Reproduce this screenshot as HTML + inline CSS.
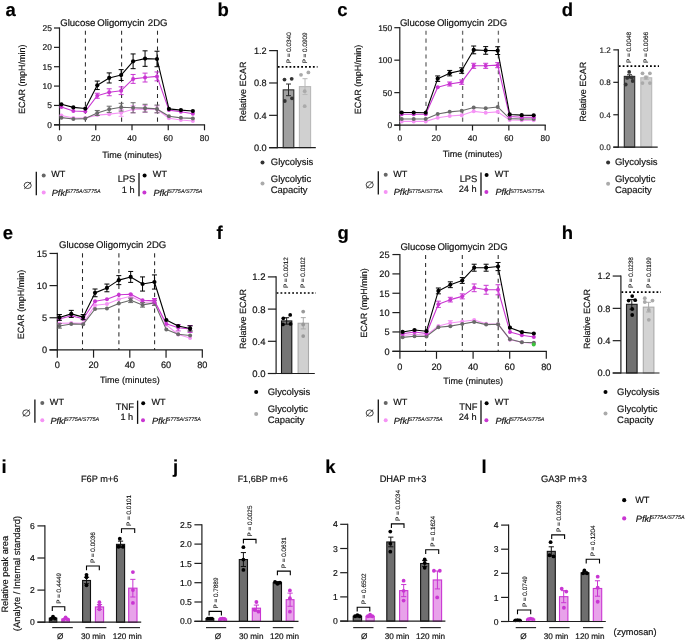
<!DOCTYPE html>
<html><head><meta charset="utf-8"><style>
html,body{margin:0;padding:0;background:#fff;}
body{width:685px;height:642px;overflow:hidden;}
svg{display:block;font-family:"Liberation Sans", sans-serif;will-change:transform;text-rendering:geometricPrecision;}
text{stroke:#111;stroke-width:0.18px;}
</style></head><body>
<svg width="685" height="642" viewBox="0 0 685 642">
<rect width="685" height="642" fill="#fff"/>
<text x="5.6" y="16.2" font-size="18.5" font-weight="bold">a</text>
<text x="217.6" y="15.9" font-size="18.5" font-weight="bold">b</text>
<text x="337.2" y="16.1" font-size="18.5" font-weight="bold">c</text>
<text x="561.8" y="16" font-size="18.5" font-weight="bold">d</text>
<text x="2.8" y="239.2" font-size="18.5" font-weight="bold">e</text>
<text x="216.6" y="238.8" font-size="18.5" font-weight="bold">f</text>
<text x="337.4" y="239" font-size="18.5" font-weight="bold">g</text>
<text x="561.8" y="239" font-size="18.5" font-weight="bold">h</text>
<text x="1.5" y="473.4" font-size="18.5" font-weight="bold">i</text>
<text x="173" y="472.6" font-size="18.5" font-weight="bold">j</text>
<text x="325.2" y="473" font-size="18.5" font-weight="bold">k</text>
<text x="481.5" y="473" font-size="18.5" font-weight="bold">l</text>
<line x1="85.4" y1="30.7" x2="85.4" y2="124.8" stroke="#2a2a2a" stroke-width="1.05" stroke-dasharray="4.1,3.8"/>
<line x1="121.6" y1="30.7" x2="121.6" y2="124.8" stroke="#2a2a2a" stroke-width="1.05" stroke-dasharray="4.1,3.8"/>
<line x1="157.5" y1="30.7" x2="157.5" y2="124.8" stroke="#2a2a2a" stroke-width="1.05" stroke-dasharray="4.1,3.8"/>
<line x1="59.5" y1="27.4" x2="59.5" y2="125.4" stroke="#1e1e1e" stroke-width="1.2"/>
<line x1="54" y1="124.8" x2="205.1" y2="124.8" stroke="#1e1e1e" stroke-width="1.2"/>
<line x1="54" y1="124.8" x2="59.5" y2="124.8" stroke="#1e1e1e" stroke-width="1.2"/>
<text x="51.9" y="127.82" font-size="8.4" text-anchor="end" fill="#111">0</text>
<line x1="54" y1="105.44" x2="59.5" y2="105.44" stroke="#1e1e1e" stroke-width="1.2"/>
<text x="51.9" y="108.46" font-size="8.4" text-anchor="end" fill="#111">5</text>
<line x1="54" y1="86.08" x2="59.5" y2="86.08" stroke="#1e1e1e" stroke-width="1.2"/>
<text x="51.9" y="89.1" font-size="8.4" text-anchor="end" fill="#111">10</text>
<line x1="54" y1="66.72" x2="59.5" y2="66.72" stroke="#1e1e1e" stroke-width="1.2"/>
<text x="51.9" y="69.74" font-size="8.4" text-anchor="end" fill="#111">15</text>
<line x1="54" y1="47.36" x2="59.5" y2="47.36" stroke="#1e1e1e" stroke-width="1.2"/>
<text x="51.9" y="50.38" font-size="8.4" text-anchor="end" fill="#111">20</text>
<line x1="54" y1="28" x2="59.5" y2="28" stroke="#1e1e1e" stroke-width="1.2"/>
<text x="51.9" y="31.02" font-size="8.4" text-anchor="end" fill="#111">25</text>
<line x1="59.5" y1="124.8" x2="59.5" y2="130.3" stroke="#1e1e1e" stroke-width="1.2"/>
<text x="59.5" y="140.9" font-size="8.4" text-anchor="middle" fill="#111">0</text>
<line x1="95.75" y1="124.8" x2="95.75" y2="130.3" stroke="#1e1e1e" stroke-width="1.2"/>
<text x="95.75" y="140.9" font-size="8.4" text-anchor="middle" fill="#111">20</text>
<line x1="132" y1="124.8" x2="132" y2="130.3" stroke="#1e1e1e" stroke-width="1.2"/>
<text x="132" y="140.9" font-size="8.4" text-anchor="middle" fill="#111">40</text>
<line x1="168.25" y1="124.8" x2="168.25" y2="130.3" stroke="#1e1e1e" stroke-width="1.2"/>
<text x="168.25" y="140.9" font-size="8.4" text-anchor="middle" fill="#111">60</text>
<line x1="204.5" y1="124.8" x2="204.5" y2="130.3" stroke="#1e1e1e" stroke-width="1.2"/>
<text x="204.5" y="140.9" font-size="8.4" text-anchor="middle" fill="#111">80</text>
<text x="132" y="158" font-size="9" text-anchor="middle" fill="#111">Time (minutes)</text>
<text x="25.3" y="79.3" font-size="9" text-anchor="middle" fill="#111" transform="rotate(-90 25.3 79.3)">ECAR (mpH/min)</text>
<text x="60.2" y="26" font-size="9.6" fill="#111">Glucose</text>
<text x="97.2" y="26" font-size="9.6" fill="#111">Oligomycin</text>
<text x="147.8" y="26" font-size="9.6" fill="#111">2DG</text>
<polyline points="61.4,115.51 73.35,118.02 85.3,118.02 97.25,115.12 109.2,114.15 121.15,112.8 133.1,109.31 145.05,108.92 157,109.31 168.95,118.22 180.9,119.96 192.85,120.93" fill="none" stroke="#f593f5" stroke-width="1.1" stroke-linejoin="round"/>
<line x1="121.15" y1="109.31" x2="121.15" y2="116.28" stroke="#f593f5" stroke-width="1"/>
<line x1="118.65" y1="109.31" x2="123.65" y2="109.31" stroke="#f593f5" stroke-width="1"/>
<line x1="118.65" y1="116.28" x2="123.65" y2="116.28" stroke="#f593f5" stroke-width="1"/>
<line x1="133.1" y1="105.83" x2="133.1" y2="112.8" stroke="#f593f5" stroke-width="1"/>
<line x1="130.6" y1="105.83" x2="135.6" y2="105.83" stroke="#f593f5" stroke-width="1"/>
<line x1="130.6" y1="112.8" x2="135.6" y2="112.8" stroke="#f593f5" stroke-width="1"/>
<line x1="145.05" y1="105.44" x2="145.05" y2="112.41" stroke="#f593f5" stroke-width="1"/>
<line x1="142.55" y1="105.44" x2="147.55" y2="105.44" stroke="#f593f5" stroke-width="1"/>
<line x1="142.55" y1="112.41" x2="147.55" y2="112.41" stroke="#f593f5" stroke-width="1"/>
<line x1="157" y1="105.83" x2="157" y2="112.8" stroke="#f593f5" stroke-width="1"/>
<line x1="154.5" y1="105.83" x2="159.5" y2="105.83" stroke="#f593f5" stroke-width="1"/>
<line x1="154.5" y1="112.8" x2="159.5" y2="112.8" stroke="#f593f5" stroke-width="1"/>
<circle cx="61.4" cy="115.51" r="2" fill="#f593f5"/>
<circle cx="73.35" cy="118.02" r="2" fill="#f593f5"/>
<circle cx="85.3" cy="118.02" r="2" fill="#f593f5"/>
<circle cx="97.25" cy="115.12" r="2" fill="#f593f5"/>
<circle cx="109.2" cy="114.15" r="2" fill="#f593f5"/>
<circle cx="121.15" cy="112.8" r="2" fill="#f593f5"/>
<circle cx="133.1" cy="109.31" r="2" fill="#f593f5"/>
<circle cx="145.05" cy="108.92" r="2" fill="#f593f5"/>
<circle cx="157" cy="109.31" r="2" fill="#f593f5"/>
<circle cx="168.95" cy="118.22" r="2" fill="#f593f5"/>
<circle cx="180.9" cy="119.96" r="2" fill="#f593f5"/>
<circle cx="192.85" cy="120.93" r="2" fill="#f593f5"/>
<polyline points="61.4,117.64 73.35,118.99 85.3,118.6 97.25,112.99 109.2,109.31 121.15,107.18 133.1,107.76 145.05,108.15 157,108.92 168.95,116.28 180.9,117.83 192.85,118.41" fill="none" stroke="#6a6a6a" stroke-width="1.1" stroke-linejoin="round"/>
<line x1="97.25" y1="110.47" x2="97.25" y2="115.51" stroke="#6a6a6a" stroke-width="1"/>
<line x1="94.75" y1="110.47" x2="99.75" y2="110.47" stroke="#6a6a6a" stroke-width="1"/>
<line x1="94.75" y1="115.51" x2="99.75" y2="115.51" stroke="#6a6a6a" stroke-width="1"/>
<line x1="109.2" y1="106.21" x2="109.2" y2="112.41" stroke="#6a6a6a" stroke-width="1"/>
<line x1="106.7" y1="106.21" x2="111.7" y2="106.21" stroke="#6a6a6a" stroke-width="1"/>
<line x1="106.7" y1="112.41" x2="111.7" y2="112.41" stroke="#6a6a6a" stroke-width="1"/>
<line x1="121.15" y1="103.31" x2="121.15" y2="111.05" stroke="#6a6a6a" stroke-width="1"/>
<line x1="118.65" y1="103.31" x2="123.65" y2="103.31" stroke="#6a6a6a" stroke-width="1"/>
<line x1="118.65" y1="111.05" x2="123.65" y2="111.05" stroke="#6a6a6a" stroke-width="1"/>
<line x1="133.1" y1="102.73" x2="133.1" y2="112.8" stroke="#6a6a6a" stroke-width="1"/>
<line x1="130.6" y1="102.73" x2="135.6" y2="102.73" stroke="#6a6a6a" stroke-width="1"/>
<line x1="130.6" y1="112.8" x2="135.6" y2="112.8" stroke="#6a6a6a" stroke-width="1"/>
<line x1="145.05" y1="104.28" x2="145.05" y2="112.02" stroke="#6a6a6a" stroke-width="1"/>
<line x1="142.55" y1="104.28" x2="147.55" y2="104.28" stroke="#6a6a6a" stroke-width="1"/>
<line x1="142.55" y1="112.02" x2="147.55" y2="112.02" stroke="#6a6a6a" stroke-width="1"/>
<line x1="157" y1="105.05" x2="157" y2="112.8" stroke="#6a6a6a" stroke-width="1"/>
<line x1="154.5" y1="105.05" x2="159.5" y2="105.05" stroke="#6a6a6a" stroke-width="1"/>
<line x1="154.5" y1="112.8" x2="159.5" y2="112.8" stroke="#6a6a6a" stroke-width="1"/>
<circle cx="61.4" cy="117.64" r="2" fill="#6a6a6a"/>
<circle cx="73.35" cy="118.99" r="2" fill="#6a6a6a"/>
<circle cx="85.3" cy="118.6" r="2" fill="#6a6a6a"/>
<circle cx="97.25" cy="112.99" r="2" fill="#6a6a6a"/>
<circle cx="109.2" cy="109.31" r="2" fill="#6a6a6a"/>
<circle cx="121.15" cy="107.18" r="2" fill="#6a6a6a"/>
<circle cx="133.1" cy="107.76" r="2" fill="#6a6a6a"/>
<circle cx="145.05" cy="108.15" r="2" fill="#6a6a6a"/>
<circle cx="157" cy="108.92" r="2" fill="#6a6a6a"/>
<circle cx="168.95" cy="116.28" r="2" fill="#6a6a6a"/>
<circle cx="180.9" cy="117.83" r="2" fill="#6a6a6a"/>
<circle cx="192.85" cy="118.41" r="2" fill="#6a6a6a"/>
<polyline points="61.4,106.99 73.35,111.05 85.3,111.44 97.25,95.76 109.2,92.28 121.15,90.73 133.1,78.92 145.05,77.56 157,76.4 168.95,110.09 180.9,111.83 192.85,113.76" fill="none" stroke="#c936d2" stroke-width="1.1" stroke-linejoin="round"/>
<line x1="97.25" y1="93.24" x2="97.25" y2="98.28" stroke="#c936d2" stroke-width="1"/>
<line x1="94.75" y1="93.24" x2="99.75" y2="93.24" stroke="#c936d2" stroke-width="1"/>
<line x1="94.75" y1="98.28" x2="99.75" y2="98.28" stroke="#c936d2" stroke-width="1"/>
<line x1="109.2" y1="88.79" x2="109.2" y2="95.76" stroke="#c936d2" stroke-width="1"/>
<line x1="106.7" y1="88.79" x2="111.7" y2="88.79" stroke="#c936d2" stroke-width="1"/>
<line x1="106.7" y1="95.76" x2="111.7" y2="95.76" stroke="#c936d2" stroke-width="1"/>
<line x1="121.15" y1="86.85" x2="121.15" y2="94.6" stroke="#c936d2" stroke-width="1"/>
<line x1="118.65" y1="86.85" x2="123.65" y2="86.85" stroke="#c936d2" stroke-width="1"/>
<line x1="118.65" y1="94.6" x2="123.65" y2="94.6" stroke="#c936d2" stroke-width="1"/>
<line x1="133.1" y1="74.46" x2="133.1" y2="83.37" stroke="#c936d2" stroke-width="1"/>
<line x1="130.6" y1="74.46" x2="135.6" y2="74.46" stroke="#c936d2" stroke-width="1"/>
<line x1="130.6" y1="83.37" x2="135.6" y2="83.37" stroke="#c936d2" stroke-width="1"/>
<line x1="145.05" y1="73.11" x2="145.05" y2="82.01" stroke="#c936d2" stroke-width="1"/>
<line x1="142.55" y1="73.11" x2="147.55" y2="73.11" stroke="#c936d2" stroke-width="1"/>
<line x1="142.55" y1="82.01" x2="147.55" y2="82.01" stroke="#c936d2" stroke-width="1"/>
<line x1="157" y1="71.95" x2="157" y2="80.85" stroke="#c936d2" stroke-width="1"/>
<line x1="154.5" y1="71.95" x2="159.5" y2="71.95" stroke="#c936d2" stroke-width="1"/>
<line x1="154.5" y1="80.85" x2="159.5" y2="80.85" stroke="#c936d2" stroke-width="1"/>
<circle cx="61.4" cy="106.99" r="2" fill="#c936d2"/>
<circle cx="73.35" cy="111.05" r="2" fill="#c936d2"/>
<circle cx="85.3" cy="111.44" r="2" fill="#c936d2"/>
<circle cx="97.25" cy="95.76" r="2" fill="#c936d2"/>
<circle cx="109.2" cy="92.28" r="2" fill="#c936d2"/>
<circle cx="121.15" cy="90.73" r="2" fill="#c936d2"/>
<circle cx="133.1" cy="78.92" r="2" fill="#c936d2"/>
<circle cx="145.05" cy="77.56" r="2" fill="#c936d2"/>
<circle cx="157" cy="76.4" r="2" fill="#c936d2"/>
<circle cx="168.95" cy="110.09" r="2" fill="#c936d2"/>
<circle cx="180.9" cy="111.83" r="2" fill="#c936d2"/>
<circle cx="192.85" cy="113.76" r="2" fill="#c936d2"/>
<polyline points="61.4,104.28 73.35,107.38 85.3,108.54 97.25,85.31 109.2,77.95 121.15,75.04 133.1,61.3 145.05,58.59 157,58.98 168.95,108.92 180.9,110.09 192.85,111.05" fill="none" stroke="#000" stroke-width="1.1" stroke-linejoin="round"/>
<line x1="97.25" y1="81.05" x2="97.25" y2="89.56" stroke="#000" stroke-width="1"/>
<line x1="94.75" y1="81.05" x2="99.75" y2="81.05" stroke="#000" stroke-width="1"/>
<line x1="94.75" y1="89.56" x2="99.75" y2="89.56" stroke="#000" stroke-width="1"/>
<line x1="109.2" y1="72.92" x2="109.2" y2="82.98" stroke="#000" stroke-width="1"/>
<line x1="106.7" y1="72.92" x2="111.7" y2="72.92" stroke="#000" stroke-width="1"/>
<line x1="106.7" y1="82.98" x2="111.7" y2="82.98" stroke="#000" stroke-width="1"/>
<line x1="121.15" y1="69.62" x2="121.15" y2="80.47" stroke="#000" stroke-width="1"/>
<line x1="118.65" y1="69.62" x2="123.65" y2="69.62" stroke="#000" stroke-width="1"/>
<line x1="118.65" y1="80.47" x2="123.65" y2="80.47" stroke="#000" stroke-width="1"/>
<line x1="133.1" y1="53.94" x2="133.1" y2="68.66" stroke="#000" stroke-width="1"/>
<line x1="130.6" y1="53.94" x2="135.6" y2="53.94" stroke="#000" stroke-width="1"/>
<line x1="130.6" y1="68.66" x2="135.6" y2="68.66" stroke="#000" stroke-width="1"/>
<line x1="145.05" y1="50.84" x2="145.05" y2="66.33" stroke="#000" stroke-width="1"/>
<line x1="142.55" y1="50.84" x2="147.55" y2="50.84" stroke="#000" stroke-width="1"/>
<line x1="142.55" y1="66.33" x2="147.55" y2="66.33" stroke="#000" stroke-width="1"/>
<line x1="157" y1="51.23" x2="157" y2="66.72" stroke="#000" stroke-width="1"/>
<line x1="154.5" y1="51.23" x2="159.5" y2="51.23" stroke="#000" stroke-width="1"/>
<line x1="154.5" y1="66.72" x2="159.5" y2="66.72" stroke="#000" stroke-width="1"/>
<circle cx="61.4" cy="104.28" r="2.1" fill="#000"/>
<circle cx="73.35" cy="107.38" r="2.1" fill="#000"/>
<circle cx="85.3" cy="108.54" r="2.1" fill="#000"/>
<circle cx="97.25" cy="85.31" r="2.1" fill="#000"/>
<circle cx="109.2" cy="77.95" r="2.1" fill="#000"/>
<circle cx="121.15" cy="75.04" r="2.1" fill="#000"/>
<circle cx="133.1" cy="61.3" r="2.1" fill="#000"/>
<circle cx="145.05" cy="58.59" r="2.1" fill="#000"/>
<circle cx="157" cy="58.98" r="2.1" fill="#000"/>
<circle cx="168.95" cy="108.92" r="2.1" fill="#000"/>
<circle cx="180.9" cy="110.09" r="2.1" fill="#000"/>
<circle cx="192.85" cy="111.05" r="2.1" fill="#000"/>
<ellipse cx="27.7" cy="185.4" rx="3.55" ry="3.15" fill="none" stroke="#222" stroke-width="0.85"/>
<line x1="24.2" y1="188.9" x2="31.2" y2="182" stroke="#222" stroke-width="0.8"/>
<line x1="36.3" y1="171.8" x2="36.3" y2="195.2" stroke="#111" stroke-width="1.3"/>
<circle cx="43.7" cy="175.4" r="2" fill="#666"/>
<text x="51.2" y="177.1" font-size="9.1" fill="#111">WT</text>
<circle cx="43.7" cy="192.6" r="2" fill="#f593f5"/>
<text x="51.8" y="196" font-size="9.1" font-style="italic" fill="#111">Pfkl</text>
<text x="66.4" y="193.2" font-size="5.45" font-style="italic" fill="#111" style="stroke-width:0.11px">S775A/S775A</text>
<text x="135.4" y="182.2" font-size="9.4" text-anchor="end" fill="#111">LPS</text>
<text x="134.6" y="192.8" font-size="9.2" text-anchor="end" fill="#111">1 h</text>
<line x1="139" y1="173" x2="139" y2="196.3" stroke="#111" stroke-width="1.3"/>
<circle cx="144.6" cy="175.6" r="2" fill="#000"/>
<text x="152.8" y="177.1" font-size="9.1" fill="#111">WT</text>
<circle cx="144.4" cy="192.6" r="2" fill="#c936d2"/>
<text x="153.4" y="196" font-size="9.1" font-style="italic" fill="#111">Pfkl</text>
<text x="168.2" y="193.2" font-size="5.45" font-style="italic" fill="#111" style="stroke-width:0.11px">S775A/S775A</text>
<line x1="277.8" y1="66.8" x2="317.5" y2="66.8" stroke="#000" stroke-width="1.7" stroke-dasharray="1.8,2.1"/>
<rect x="283.2" y="89.86" width="10.6" height="57.84" fill="#a0a0a0" stroke="#2a2a2a" stroke-width="1.1"/>
<line x1="288.5" y1="84.03" x2="288.5" y2="95.68" stroke="#2a2a2a" stroke-width="1"/>
<line x1="286" y1="84.03" x2="291" y2="84.03" stroke="#2a2a2a" stroke-width="1"/>
<line x1="286" y1="95.68" x2="291" y2="95.68" stroke="#2a2a2a" stroke-width="1"/>
<circle cx="284.5" cy="79.6" r="1.9" fill="#333"/>
<circle cx="291.7" cy="78.8" r="1.9" fill="#333"/>
<circle cx="284.8" cy="101" r="1.9" fill="#333"/>
<circle cx="292" cy="98.3" r="1.9" fill="#333"/>
<rect x="299.4" y="86.62" width="11.2" height="61.08" fill="#d0d0d0" stroke="#b8b8b8" stroke-width="1.1"/>
<line x1="305" y1="78.69" x2="305" y2="94.55" stroke="#b8b8b8" stroke-width="1"/>
<line x1="302.5" y1="78.69" x2="307.5" y2="78.69" stroke="#b8b8b8" stroke-width="1"/>
<line x1="302.5" y1="94.55" x2="307.5" y2="94.55" stroke="#b8b8b8" stroke-width="1"/>
<circle cx="301" cy="74.8" r="1.9" fill="#aaa"/>
<circle cx="308.4" cy="72.4" r="1.9" fill="#aaa"/>
<circle cx="304.7" cy="91.2" r="1.9" fill="#aaa"/>
<circle cx="304.7" cy="106.2" r="1.9" fill="#aaa"/>
<line x1="277.3" y1="50.02" x2="277.3" y2="148.3" stroke="#1e1e1e" stroke-width="1.2"/>
<line x1="269.1" y1="147.7" x2="315.8" y2="147.7" stroke="#1e1e1e" stroke-width="1.2"/>
<line x1="269.1" y1="147.7" x2="277.3" y2="147.7" stroke="#1e1e1e" stroke-width="1.2"/>
<text x="266.7" y="151.01" font-size="9.2" text-anchor="end" fill="#111">0.0</text>
<line x1="269.1" y1="115.34" x2="277.3" y2="115.34" stroke="#1e1e1e" stroke-width="1.2"/>
<text x="266.7" y="118.65" font-size="9.2" text-anchor="end" fill="#111">0.4</text>
<line x1="269.1" y1="82.98" x2="277.3" y2="82.98" stroke="#1e1e1e" stroke-width="1.2"/>
<text x="266.7" y="86.29" font-size="9.2" text-anchor="end" fill="#111">0.8</text>
<line x1="269.1" y1="50.62" x2="277.3" y2="50.62" stroke="#1e1e1e" stroke-width="1.2"/>
<text x="266.7" y="53.93" font-size="9.2" text-anchor="end" fill="#111">1.2</text>
<text x="246.2" y="91.5" font-size="9" text-anchor="middle" fill="#111" transform="rotate(-90 246.2 91.5)">Relative ECAR</text>
<text x="290.9" y="47.8" font-size="6.4" text-anchor="middle" fill="#111" transform="rotate(-90 290.9 47.8)" style="stroke-width:0.11px">P = 0.0340</text>
<text x="307.1" y="47.8" font-size="6.4" text-anchor="middle" fill="#111" transform="rotate(-90 307.1 47.8)" style="stroke-width:0.11px">P = 0.0909</text>
<circle cx="262.5" cy="162.4" r="2" fill="#333"/>
<text x="270.8" y="165" font-size="9.45" fill="#111">Glycolysis</text>
<circle cx="262.5" cy="183.6" r="2" fill="#aaa"/>
<text x="270.8" y="182" font-size="9.45" fill="#111">Glycolytic</text>
<text x="270.8" y="193.2" font-size="9.45" fill="#111">Capacity</text>
<line x1="426" y1="30.7" x2="426" y2="125.1" stroke="#6a6a6a" stroke-width="1.3" stroke-dasharray="4.1,3.8"/>
<line x1="462.6" y1="30.7" x2="462.6" y2="125.1" stroke="#6a6a6a" stroke-width="1.3" stroke-dasharray="4.1,3.8"/>
<line x1="498.4" y1="30.7" x2="498.4" y2="125.1" stroke="#6a6a6a" stroke-width="1.3" stroke-dasharray="4.1,3.8"/>
<line x1="399.8" y1="27.1" x2="399.8" y2="125.7" stroke="#1e1e1e" stroke-width="1.2"/>
<line x1="394.3" y1="125.1" x2="545.8" y2="125.1" stroke="#1e1e1e" stroke-width="1.2"/>
<line x1="394.3" y1="125.1" x2="399.8" y2="125.1" stroke="#1e1e1e" stroke-width="1.2"/>
<text x="392.2" y="128.12" font-size="8.4" text-anchor="end" fill="#111">0</text>
<line x1="394.3" y1="92.63" x2="399.8" y2="92.63" stroke="#1e1e1e" stroke-width="1.2"/>
<text x="392.2" y="95.66" font-size="8.4" text-anchor="end" fill="#111">50</text>
<line x1="394.3" y1="60.17" x2="399.8" y2="60.17" stroke="#1e1e1e" stroke-width="1.2"/>
<text x="392.2" y="63.19" font-size="8.4" text-anchor="end" fill="#111">100</text>
<line x1="394.3" y1="27.7" x2="399.8" y2="27.7" stroke="#1e1e1e" stroke-width="1.2"/>
<text x="392.2" y="30.73" font-size="8.4" text-anchor="end" fill="#111">150</text>
<line x1="399.8" y1="125.1" x2="399.8" y2="130.6" stroke="#1e1e1e" stroke-width="1.2"/>
<text x="399.8" y="141.2" font-size="8.4" text-anchor="middle" fill="#111">0</text>
<line x1="436.15" y1="125.1" x2="436.15" y2="130.6" stroke="#1e1e1e" stroke-width="1.2"/>
<text x="436.15" y="141.2" font-size="8.4" text-anchor="middle" fill="#111">20</text>
<line x1="472.5" y1="125.1" x2="472.5" y2="130.6" stroke="#1e1e1e" stroke-width="1.2"/>
<text x="472.5" y="141.2" font-size="8.4" text-anchor="middle" fill="#111">40</text>
<line x1="508.85" y1="125.1" x2="508.85" y2="130.6" stroke="#1e1e1e" stroke-width="1.2"/>
<text x="508.85" y="141.2" font-size="8.4" text-anchor="middle" fill="#111">60</text>
<line x1="545.2" y1="125.1" x2="545.2" y2="130.6" stroke="#1e1e1e" stroke-width="1.2"/>
<text x="545.2" y="141.2" font-size="8.4" text-anchor="middle" fill="#111">80</text>
<text x="472.5" y="157.1" font-size="9" text-anchor="middle" fill="#111">Time (minutes)</text>
<text x="361" y="79.5" font-size="9" text-anchor="middle" fill="#111" transform="rotate(-90 361 79.5)">ECAR (mpH/min)</text>
<text x="399.9" y="25.6" font-size="9.6" fill="#111">Glucose</text>
<text x="436.9" y="25.6" font-size="9.6" fill="#111">Oligomycin</text>
<text x="487.5" y="25.6" font-size="9.6" fill="#111">2DG</text>
<polyline points="401.7,121.4 413.7,121.4 425.7,121.4 437.7,117.76 449.7,116.07 461.7,115.17 473.7,111.33 485.7,112.76 497.7,111.85 509.7,119.97 521.7,120.3 533.7,120.3" fill="none" stroke="#f593f5" stroke-width="1.1" stroke-linejoin="round"/>
<circle cx="401.7" cy="121.4" r="2" fill="#f593f5"/>
<circle cx="413.7" cy="121.4" r="2" fill="#f593f5"/>
<circle cx="425.7" cy="121.4" r="2" fill="#f593f5"/>
<circle cx="437.7" cy="117.76" r="2" fill="#f593f5"/>
<circle cx="449.7" cy="116.07" r="2" fill="#f593f5"/>
<circle cx="461.7" cy="115.17" r="2" fill="#f593f5"/>
<circle cx="473.7" cy="111.33" r="2" fill="#f593f5"/>
<circle cx="485.7" cy="112.76" r="2" fill="#f593f5"/>
<circle cx="497.7" cy="111.85" r="2" fill="#f593f5"/>
<circle cx="509.7" cy="119.97" r="2" fill="#f593f5"/>
<circle cx="521.7" cy="120.3" r="2" fill="#f593f5"/>
<circle cx="533.7" cy="120.3" r="2" fill="#f593f5"/>
<polyline points="401.7,119 413.7,119 425.7,119 437.7,113.93 449.7,111.85 461.7,110.82 473.7,107.57 485.7,108.22 497.7,106.98 509.7,118.61 521.7,119.06 533.7,119.06" fill="none" stroke="#6a6a6a" stroke-width="1.1" stroke-linejoin="round"/>
<circle cx="401.7" cy="119" r="2" fill="#6a6a6a"/>
<circle cx="413.7" cy="119" r="2" fill="#6a6a6a"/>
<circle cx="425.7" cy="119" r="2" fill="#6a6a6a"/>
<circle cx="437.7" cy="113.93" r="2" fill="#6a6a6a"/>
<circle cx="449.7" cy="111.85" r="2" fill="#6a6a6a"/>
<circle cx="461.7" cy="110.82" r="2" fill="#6a6a6a"/>
<circle cx="473.7" cy="107.57" r="2" fill="#6a6a6a"/>
<circle cx="485.7" cy="108.22" r="2" fill="#6a6a6a"/>
<circle cx="497.7" cy="106.98" r="2" fill="#6a6a6a"/>
<circle cx="509.7" cy="118.61" r="2" fill="#6a6a6a"/>
<circle cx="521.7" cy="119.06" r="2" fill="#6a6a6a"/>
<circle cx="533.7" cy="119.06" r="2" fill="#6a6a6a"/>
<polyline points="401.7,114.26 413.7,114.26 425.7,114.26 437.7,87.31 449.7,84 461.7,82.12 473.7,65.82 485.7,65.82 497.7,65.17 509.7,116.53 521.7,117.31 533.7,117.31" fill="none" stroke="#c936d2" stroke-width="1.1" stroke-linejoin="round"/>
<line x1="449.7" y1="81.99" x2="449.7" y2="86.01" stroke="#c936d2" stroke-width="1"/>
<line x1="447.2" y1="81.99" x2="452.2" y2="81.99" stroke="#c936d2" stroke-width="1"/>
<line x1="447.2" y1="86.01" x2="452.2" y2="86.01" stroke="#c936d2" stroke-width="1"/>
<line x1="461.7" y1="79.91" x2="461.7" y2="84.32" stroke="#c936d2" stroke-width="1"/>
<line x1="459.2" y1="79.91" x2="464.2" y2="79.91" stroke="#c936d2" stroke-width="1"/>
<line x1="459.2" y1="84.32" x2="464.2" y2="84.32" stroke="#c936d2" stroke-width="1"/>
<line x1="473.7" y1="63.29" x2="473.7" y2="68.35" stroke="#c936d2" stroke-width="1"/>
<line x1="471.2" y1="63.29" x2="476.2" y2="63.29" stroke="#c936d2" stroke-width="1"/>
<line x1="471.2" y1="68.35" x2="476.2" y2="68.35" stroke="#c936d2" stroke-width="1"/>
<line x1="485.7" y1="63.29" x2="485.7" y2="68.35" stroke="#c936d2" stroke-width="1"/>
<line x1="483.2" y1="63.29" x2="488.2" y2="63.29" stroke="#c936d2" stroke-width="1"/>
<line x1="483.2" y1="68.35" x2="488.2" y2="68.35" stroke="#c936d2" stroke-width="1"/>
<line x1="497.7" y1="62.64" x2="497.7" y2="67.7" stroke="#c936d2" stroke-width="1"/>
<line x1="495.2" y1="62.64" x2="500.2" y2="62.64" stroke="#c936d2" stroke-width="1"/>
<line x1="495.2" y1="67.7" x2="500.2" y2="67.7" stroke="#c936d2" stroke-width="1"/>
<circle cx="401.7" cy="114.26" r="2" fill="#c936d2"/>
<circle cx="413.7" cy="114.26" r="2" fill="#c936d2"/>
<circle cx="425.7" cy="114.26" r="2" fill="#c936d2"/>
<circle cx="437.7" cy="87.31" r="2" fill="#c936d2"/>
<circle cx="449.7" cy="84" r="2" fill="#c936d2"/>
<circle cx="461.7" cy="82.12" r="2" fill="#c936d2"/>
<circle cx="473.7" cy="65.82" r="2" fill="#c936d2"/>
<circle cx="485.7" cy="65.82" r="2" fill="#c936d2"/>
<circle cx="497.7" cy="65.17" r="2" fill="#c936d2"/>
<circle cx="509.7" cy="116.53" r="2" fill="#c936d2"/>
<circle cx="521.7" cy="117.31" r="2" fill="#c936d2"/>
<circle cx="533.7" cy="117.31" r="2" fill="#c936d2"/>
<polyline points="401.7,112.57 413.7,112.57 425.7,112.76 437.7,78.68 449.7,73.16 461.7,70.56 473.7,49.91 485.7,50.43 497.7,50.63 509.7,114.45 521.7,115.17 533.7,115.36" fill="none" stroke="#000" stroke-width="1.1" stroke-linejoin="round"/>
<line x1="437.7" y1="75.95" x2="437.7" y2="81.4" stroke="#000" stroke-width="1"/>
<line x1="435.2" y1="75.95" x2="440.2" y2="75.95" stroke="#000" stroke-width="1"/>
<line x1="435.2" y1="81.4" x2="440.2" y2="81.4" stroke="#000" stroke-width="1"/>
<line x1="449.7" y1="70.43" x2="449.7" y2="75.88" stroke="#000" stroke-width="1"/>
<line x1="447.2" y1="70.43" x2="452.2" y2="70.43" stroke="#000" stroke-width="1"/>
<line x1="447.2" y1="75.88" x2="452.2" y2="75.88" stroke="#000" stroke-width="1"/>
<line x1="461.7" y1="67.83" x2="461.7" y2="73.29" stroke="#000" stroke-width="1"/>
<line x1="459.2" y1="67.83" x2="464.2" y2="67.83" stroke="#000" stroke-width="1"/>
<line x1="459.2" y1="73.29" x2="464.2" y2="73.29" stroke="#000" stroke-width="1"/>
<line x1="473.7" y1="46.02" x2="473.7" y2="53.81" stroke="#000" stroke-width="1"/>
<line x1="471.2" y1="46.02" x2="476.2" y2="46.02" stroke="#000" stroke-width="1"/>
<line x1="471.2" y1="53.81" x2="476.2" y2="53.81" stroke="#000" stroke-width="1"/>
<line x1="485.7" y1="46.6" x2="485.7" y2="54.26" stroke="#000" stroke-width="1"/>
<line x1="483.2" y1="46.6" x2="488.2" y2="46.6" stroke="#000" stroke-width="1"/>
<line x1="483.2" y1="54.26" x2="488.2" y2="54.26" stroke="#000" stroke-width="1"/>
<line x1="497.7" y1="46.73" x2="497.7" y2="54.52" stroke="#000" stroke-width="1"/>
<line x1="495.2" y1="46.73" x2="500.2" y2="46.73" stroke="#000" stroke-width="1"/>
<line x1="495.2" y1="54.52" x2="500.2" y2="54.52" stroke="#000" stroke-width="1"/>
<circle cx="401.7" cy="112.57" r="2.1" fill="#000"/>
<circle cx="413.7" cy="112.57" r="2.1" fill="#000"/>
<circle cx="425.7" cy="112.76" r="2.1" fill="#000"/>
<circle cx="437.7" cy="78.68" r="2.1" fill="#000"/>
<circle cx="449.7" cy="73.16" r="2.1" fill="#000"/>
<circle cx="461.7" cy="70.56" r="2.1" fill="#000"/>
<circle cx="473.7" cy="49.91" r="2.1" fill="#000"/>
<circle cx="485.7" cy="50.43" r="2.1" fill="#000"/>
<circle cx="497.7" cy="50.63" r="2.1" fill="#000"/>
<circle cx="509.7" cy="114.45" r="2.1" fill="#000"/>
<circle cx="521.7" cy="115.17" r="2.1" fill="#000"/>
<circle cx="533.7" cy="115.36" r="2.1" fill="#000"/>
<ellipse cx="369.7" cy="184.8" rx="3.55" ry="3.15" fill="none" stroke="#222" stroke-width="0.85"/>
<line x1="366.2" y1="188.3" x2="373.2" y2="181.4" stroke="#222" stroke-width="0.8"/>
<line x1="378.3" y1="171.2" x2="378.3" y2="194.6" stroke="#111" stroke-width="1.3"/>
<circle cx="385.7" cy="174.8" r="2" fill="#666"/>
<text x="393.2" y="176.5" font-size="9.1" fill="#111">WT</text>
<circle cx="385.7" cy="192" r="2" fill="#f593f5"/>
<text x="393.8" y="195.4" font-size="9.1" font-style="italic" fill="#111">Pfkl</text>
<text x="408.4" y="192.6" font-size="5.45" fill="#111" style="stroke-width:0.11px">S775A/S775A</text>
<text x="477.4" y="181.6" font-size="9.4" text-anchor="end" fill="#111">LPS</text>
<text x="476.6" y="192.2" font-size="9.2" text-anchor="end" fill="#111">24 h</text>
<line x1="481" y1="172.4" x2="481" y2="195.7" stroke="#111" stroke-width="1.3"/>
<circle cx="486.6" cy="175" r="2" fill="#000"/>
<text x="494.8" y="176.5" font-size="9.1" fill="#111">WT</text>
<circle cx="486.4" cy="192" r="2" fill="#c936d2"/>
<text x="495.4" y="195.4" font-size="9.1" font-style="italic" fill="#111">Pfkl</text>
<text x="510.2" y="192.6" font-size="5.45" fill="#111" style="stroke-width:0.11px">S775A/S775A</text>
<line x1="618.8" y1="66.1" x2="659" y2="66.1" stroke="#000" stroke-width="1.7" stroke-dasharray="1.8,2.1"/>
<rect x="624.3" y="76.4" width="10.4" height="70.8" fill="#8c8c8c" stroke="#2a2a2a" stroke-width="1.1"/>
<line x1="629.5" y1="74.78" x2="629.5" y2="78.02" stroke="#2a2a2a" stroke-width="1"/>
<line x1="627" y1="74.78" x2="632" y2="74.78" stroke="#2a2a2a" stroke-width="1"/>
<line x1="627" y1="78.02" x2="632" y2="78.02" stroke="#2a2a2a" stroke-width="1"/>
<circle cx="629.2" cy="71.9" r="1.9" fill="#333"/>
<circle cx="625.7" cy="84.5" r="1.9" fill="#333"/>
<circle cx="632.7" cy="81" r="1.9" fill="#333"/>
<circle cx="627.1" cy="77.9" r="1.9" fill="#333"/>
<circle cx="632" cy="77.5" r="1.9" fill="#333"/>
<rect x="640.8" y="77.78" width="10.9" height="69.42" fill="#d0d0d0" stroke="#b8b8b8" stroke-width="1.1"/>
<line x1="646.25" y1="76.16" x2="646.25" y2="79.4" stroke="#b8b8b8" stroke-width="1"/>
<line x1="643.75" y1="76.16" x2="648.75" y2="76.16" stroke="#b8b8b8" stroke-width="1"/>
<line x1="643.75" y1="79.4" x2="648.75" y2="79.4" stroke="#b8b8b8" stroke-width="1"/>
<circle cx="642.5" cy="73.3" r="1.9" fill="#aaa"/>
<circle cx="649.9" cy="73.3" r="1.9" fill="#aaa"/>
<circle cx="646" cy="77.5" r="1.9" fill="#aaa"/>
<circle cx="642.5" cy="83.1" r="1.9" fill="#aaa"/>
<circle cx="649.9" cy="83.1" r="1.9" fill="#aaa"/>
<line x1="618.3" y1="49.28" x2="618.3" y2="147.8" stroke="#1e1e1e" stroke-width="1.2"/>
<line x1="613.3" y1="147.2" x2="657.7" y2="147.2" stroke="#1e1e1e" stroke-width="1.2"/>
<line x1="613.3" y1="147.2" x2="618.3" y2="147.2" stroke="#1e1e1e" stroke-width="1.2"/>
<text x="610.7" y="150.08" font-size="8" text-anchor="end" fill="#333">0.0</text>
<line x1="613.3" y1="114.76" x2="618.3" y2="114.76" stroke="#1e1e1e" stroke-width="1.2"/>
<text x="610.7" y="117.64" font-size="8" text-anchor="end" fill="#333">0.4</text>
<line x1="613.3" y1="82.32" x2="618.3" y2="82.32" stroke="#1e1e1e" stroke-width="1.2"/>
<text x="610.7" y="85.2" font-size="8" text-anchor="end" fill="#333">0.8</text>
<line x1="613.3" y1="49.88" x2="618.3" y2="49.88" stroke="#1e1e1e" stroke-width="1.2"/>
<text x="610.7" y="52.76" font-size="8" text-anchor="end" fill="#333">1.2</text>
<text x="586.4" y="91.8" font-size="9" text-anchor="middle" fill="#111" transform="rotate(-90 586.4 91.8)">Relative ECAR</text>
<text x="631.4" y="47.4" font-size="6.4" text-anchor="middle" fill="#111" transform="rotate(-90 631.4 47.4)" style="stroke-width:0.11px">P = 0.0048</text>
<text x="648.1" y="47.4" font-size="6.4" text-anchor="middle" fill="#111" transform="rotate(-90 648.1 47.4)" style="stroke-width:0.11px">P = 0.0066</text>
<circle cx="608.1" cy="162.6" r="2" fill="#333"/>
<text x="615" y="165.2" font-size="9.45" fill="#111">Glycolysis</text>
<circle cx="608.1" cy="183.8" r="2" fill="#aaa"/>
<text x="615" y="182.2" font-size="9.45" fill="#111">Glycolytic</text>
<text x="615" y="193.4" font-size="9.45" fill="#111">Capacity</text>
<line x1="82.5" y1="253.3" x2="82.5" y2="349.9" stroke="#2a2a2a" stroke-width="1.05" stroke-dasharray="4.1,3.8"/>
<line x1="118.9" y1="253.3" x2="118.9" y2="349.9" stroke="#2a2a2a" stroke-width="1.05" stroke-dasharray="4.1,3.8"/>
<line x1="154.6" y1="253.3" x2="154.6" y2="349.9" stroke="#2a2a2a" stroke-width="1.05" stroke-dasharray="4.1,3.8"/>
<line x1="57.3" y1="252.85" x2="57.3" y2="350.5" stroke="#1e1e1e" stroke-width="1.2"/>
<line x1="49.5" y1="349.9" x2="202.9" y2="349.9" stroke="#1e1e1e" stroke-width="1.2"/>
<line x1="49.5" y1="349.9" x2="57.3" y2="349.9" stroke="#1e1e1e" stroke-width="1.2"/>
<text x="47.1" y="353.21" font-size="9.2" text-anchor="end" fill="#111">0</text>
<line x1="49.5" y1="317.75" x2="57.3" y2="317.75" stroke="#1e1e1e" stroke-width="1.2"/>
<text x="47.1" y="321.06" font-size="9.2" text-anchor="end" fill="#111">5</text>
<line x1="49.5" y1="285.6" x2="57.3" y2="285.6" stroke="#1e1e1e" stroke-width="1.2"/>
<text x="47.1" y="288.91" font-size="9.2" text-anchor="end" fill="#111">10</text>
<line x1="49.5" y1="253.45" x2="57.3" y2="253.45" stroke="#1e1e1e" stroke-width="1.2"/>
<text x="47.1" y="256.76" font-size="9.2" text-anchor="end" fill="#111">15</text>
<line x1="57.3" y1="349.9" x2="57.3" y2="357.7" stroke="#1e1e1e" stroke-width="1.2"/>
<text x="57.3" y="368.3" font-size="9.2" text-anchor="middle" fill="#111">0</text>
<line x1="93.55" y1="349.9" x2="93.55" y2="357.7" stroke="#1e1e1e" stroke-width="1.2"/>
<text x="93.55" y="368.3" font-size="9.2" text-anchor="middle" fill="#111">20</text>
<line x1="129.8" y1="349.9" x2="129.8" y2="357.7" stroke="#1e1e1e" stroke-width="1.2"/>
<text x="129.8" y="368.3" font-size="9.2" text-anchor="middle" fill="#111">40</text>
<line x1="166.05" y1="349.9" x2="166.05" y2="357.7" stroke="#1e1e1e" stroke-width="1.2"/>
<text x="166.05" y="368.3" font-size="9.2" text-anchor="middle" fill="#111">60</text>
<line x1="202.3" y1="349.9" x2="202.3" y2="357.7" stroke="#1e1e1e" stroke-width="1.2"/>
<text x="202.3" y="368.3" font-size="9.2" text-anchor="middle" fill="#111">80</text>
<text x="129.8" y="383.1" font-size="9" text-anchor="middle" fill="#111">Time (minutes)</text>
<text x="23.6" y="304.5" font-size="9" text-anchor="middle" fill="#111" transform="rotate(-90 23.6 304.5)">ECAR (mpH/min)</text>
<text x="59" y="248.2" font-size="9.6" fill="#111">Glucose</text>
<text x="96" y="248.2" font-size="9.6" fill="#111">Oligomycin</text>
<text x="146.6" y="248.2" font-size="9.6" fill="#111">2DG</text>
<polyline points="59.4,323.41 71.28,323.02 83.16,323.41 95.04,305.21 106.92,303.93 118.8,299.3 130.68,296.21 142.56,302.45 154.44,301.67 166.32,324.82 178.2,334.47 190.08,338" fill="none" stroke="#f593f5" stroke-width="1.1" stroke-linejoin="round"/>
<line x1="130.68" y1="293.96" x2="130.68" y2="298.46" stroke="#f593f5" stroke-width="1"/>
<line x1="128.18" y1="293.96" x2="133.18" y2="293.96" stroke="#f593f5" stroke-width="1"/>
<line x1="128.18" y1="298.46" x2="133.18" y2="298.46" stroke="#f593f5" stroke-width="1"/>
<line x1="154.44" y1="299.1" x2="154.44" y2="304.25" stroke="#f593f5" stroke-width="1"/>
<line x1="151.94" y1="299.1" x2="156.94" y2="299.1" stroke="#f593f5" stroke-width="1"/>
<line x1="151.94" y1="304.25" x2="156.94" y2="304.25" stroke="#f593f5" stroke-width="1"/>
<circle cx="59.4" cy="323.41" r="2" fill="#f593f5"/>
<circle cx="71.28" cy="323.02" r="2" fill="#f593f5"/>
<circle cx="83.16" cy="323.41" r="2" fill="#f593f5"/>
<circle cx="95.04" cy="305.21" r="2" fill="#f593f5"/>
<circle cx="106.92" cy="303.93" r="2" fill="#f593f5"/>
<circle cx="118.8" cy="299.3" r="2" fill="#f593f5"/>
<circle cx="130.68" cy="296.21" r="2" fill="#f593f5"/>
<circle cx="142.56" cy="302.45" r="2" fill="#f593f5"/>
<circle cx="154.44" cy="301.67" r="2" fill="#f593f5"/>
<circle cx="166.32" cy="324.82" r="2" fill="#f593f5"/>
<circle cx="178.2" cy="334.47" r="2" fill="#f593f5"/>
<circle cx="190.08" cy="338" r="2" fill="#f593f5"/>
<polyline points="59.4,325.92 71.28,323.92 83.16,324.31 95.04,309.01 106.92,308.49 118.8,303.41 130.68,300.32 142.56,304.89 154.44,302.9 166.32,329.58 178.2,334.28 190.08,335.43" fill="none" stroke="#6a6a6a" stroke-width="1.1" stroke-linejoin="round"/>
<line x1="59.4" y1="323.67" x2="59.4" y2="328.17" stroke="#6a6a6a" stroke-width="1"/>
<line x1="56.9" y1="323.67" x2="61.9" y2="323.67" stroke="#6a6a6a" stroke-width="1"/>
<line x1="56.9" y1="328.17" x2="61.9" y2="328.17" stroke="#6a6a6a" stroke-width="1"/>
<line x1="130.68" y1="298.07" x2="130.68" y2="302.58" stroke="#6a6a6a" stroke-width="1"/>
<line x1="128.18" y1="298.07" x2="133.18" y2="298.07" stroke="#6a6a6a" stroke-width="1"/>
<line x1="128.18" y1="302.58" x2="133.18" y2="302.58" stroke="#6a6a6a" stroke-width="1"/>
<line x1="142.56" y1="302.64" x2="142.56" y2="307.14" stroke="#6a6a6a" stroke-width="1"/>
<line x1="140.06" y1="302.64" x2="145.06" y2="302.64" stroke="#6a6a6a" stroke-width="1"/>
<line x1="140.06" y1="307.14" x2="145.06" y2="307.14" stroke="#6a6a6a" stroke-width="1"/>
<line x1="154.44" y1="300.32" x2="154.44" y2="305.47" stroke="#6a6a6a" stroke-width="1"/>
<line x1="151.94" y1="300.32" x2="156.94" y2="300.32" stroke="#6a6a6a" stroke-width="1"/>
<line x1="151.94" y1="305.47" x2="156.94" y2="305.47" stroke="#6a6a6a" stroke-width="1"/>
<circle cx="59.4" cy="325.92" r="2" fill="#6a6a6a"/>
<circle cx="71.28" cy="323.92" r="2" fill="#6a6a6a"/>
<circle cx="83.16" cy="324.31" r="2" fill="#6a6a6a"/>
<circle cx="95.04" cy="309.01" r="2" fill="#6a6a6a"/>
<circle cx="106.92" cy="308.49" r="2" fill="#6a6a6a"/>
<circle cx="118.8" cy="303.41" r="2" fill="#6a6a6a"/>
<circle cx="130.68" cy="300.32" r="2" fill="#6a6a6a"/>
<circle cx="142.56" cy="304.89" r="2" fill="#6a6a6a"/>
<circle cx="154.44" cy="302.9" r="2" fill="#6a6a6a"/>
<circle cx="166.32" cy="329.58" r="2" fill="#6a6a6a"/>
<circle cx="178.2" cy="334.28" r="2" fill="#6a6a6a"/>
<circle cx="190.08" cy="335.43" r="2" fill="#6a6a6a"/>
<polyline points="59.4,319.04 71.28,315.82 83.16,318.71 95.04,301.29 106.92,299.3 118.8,294.73 130.68,294.28 142.56,300.32 154.44,300.77 166.32,323.79 178.2,327.72 190.08,329" fill="none" stroke="#c936d2" stroke-width="1.1" stroke-linejoin="round"/>
<line x1="154.44" y1="298.52" x2="154.44" y2="303.03" stroke="#c936d2" stroke-width="1"/>
<line x1="151.94" y1="298.52" x2="156.94" y2="298.52" stroke="#c936d2" stroke-width="1"/>
<line x1="151.94" y1="303.03" x2="156.94" y2="303.03" stroke="#c936d2" stroke-width="1"/>
<line x1="178.2" y1="324.5" x2="178.2" y2="330.93" stroke="#c936d2" stroke-width="1"/>
<line x1="175.7" y1="324.5" x2="180.7" y2="324.5" stroke="#c936d2" stroke-width="1"/>
<line x1="175.7" y1="330.93" x2="180.7" y2="330.93" stroke="#c936d2" stroke-width="1"/>
<line x1="190.08" y1="325.59" x2="190.08" y2="332.41" stroke="#c936d2" stroke-width="1"/>
<line x1="187.58" y1="325.59" x2="192.58" y2="325.59" stroke="#c936d2" stroke-width="1"/>
<line x1="187.58" y1="332.41" x2="192.58" y2="332.41" stroke="#c936d2" stroke-width="1"/>
<circle cx="59.4" cy="319.04" r="2" fill="#c936d2"/>
<circle cx="71.28" cy="315.82" r="2" fill="#c936d2"/>
<circle cx="83.16" cy="318.71" r="2" fill="#c936d2"/>
<circle cx="95.04" cy="301.29" r="2" fill="#c936d2"/>
<circle cx="106.92" cy="299.3" r="2" fill="#c936d2"/>
<circle cx="118.8" cy="294.73" r="2" fill="#c936d2"/>
<circle cx="130.68" cy="294.28" r="2" fill="#c936d2"/>
<circle cx="142.56" cy="300.32" r="2" fill="#c936d2"/>
<circle cx="154.44" cy="300.77" r="2" fill="#c936d2"/>
<circle cx="166.32" cy="323.79" r="2" fill="#c936d2"/>
<circle cx="178.2" cy="327.72" r="2" fill="#c936d2"/>
<circle cx="190.08" cy="329" r="2" fill="#c936d2"/>
<polyline points="59.4,317.43 71.28,313.89 83.16,317.11 95.04,292.87 106.92,287.91 118.8,280.13 130.68,276.92 142.56,283.99 154.44,282 166.32,320 178.2,325.98 190.08,328.42" fill="none" stroke="#000" stroke-width="1.1" stroke-linejoin="round"/>
<line x1="59.4" y1="314.53" x2="59.4" y2="320.32" stroke="#000" stroke-width="1"/>
<line x1="56.9" y1="314.53" x2="61.9" y2="314.53" stroke="#000" stroke-width="1"/>
<line x1="56.9" y1="320.32" x2="61.9" y2="320.32" stroke="#000" stroke-width="1"/>
<line x1="71.28" y1="310.36" x2="71.28" y2="317.43" stroke="#000" stroke-width="1"/>
<line x1="68.78" y1="310.36" x2="73.78" y2="310.36" stroke="#000" stroke-width="1"/>
<line x1="68.78" y1="317.43" x2="73.78" y2="317.43" stroke="#000" stroke-width="1"/>
<line x1="83.16" y1="314.53" x2="83.16" y2="319.68" stroke="#000" stroke-width="1"/>
<line x1="80.66" y1="314.53" x2="85.66" y2="314.53" stroke="#000" stroke-width="1"/>
<line x1="80.66" y1="319.68" x2="85.66" y2="319.68" stroke="#000" stroke-width="1"/>
<line x1="95.04" y1="289.01" x2="95.04" y2="296.72" stroke="#000" stroke-width="1"/>
<line x1="92.54" y1="289.01" x2="97.54" y2="289.01" stroke="#000" stroke-width="1"/>
<line x1="92.54" y1="296.72" x2="97.54" y2="296.72" stroke="#000" stroke-width="1"/>
<line x1="106.92" y1="284.06" x2="106.92" y2="291.77" stroke="#000" stroke-width="1"/>
<line x1="104.42" y1="284.06" x2="109.42" y2="284.06" stroke="#000" stroke-width="1"/>
<line x1="104.42" y1="291.77" x2="109.42" y2="291.77" stroke="#000" stroke-width="1"/>
<line x1="118.8" y1="275.63" x2="118.8" y2="284.64" stroke="#000" stroke-width="1"/>
<line x1="116.3" y1="275.63" x2="121.3" y2="275.63" stroke="#000" stroke-width="1"/>
<line x1="116.3" y1="284.64" x2="121.3" y2="284.64" stroke="#000" stroke-width="1"/>
<line x1="130.68" y1="271.45" x2="130.68" y2="282.38" stroke="#000" stroke-width="1"/>
<line x1="128.18" y1="271.45" x2="133.18" y2="271.45" stroke="#000" stroke-width="1"/>
<line x1="128.18" y1="282.38" x2="133.18" y2="282.38" stroke="#000" stroke-width="1"/>
<line x1="142.56" y1="276.92" x2="142.56" y2="291.07" stroke="#000" stroke-width="1"/>
<line x1="140.06" y1="276.92" x2="145.06" y2="276.92" stroke="#000" stroke-width="1"/>
<line x1="140.06" y1="291.07" x2="145.06" y2="291.07" stroke="#000" stroke-width="1"/>
<line x1="154.44" y1="274.93" x2="154.44" y2="289.07" stroke="#000" stroke-width="1"/>
<line x1="151.94" y1="274.93" x2="156.94" y2="274.93" stroke="#000" stroke-width="1"/>
<line x1="151.94" y1="289.07" x2="156.94" y2="289.07" stroke="#000" stroke-width="1"/>
<line x1="190.08" y1="325.85" x2="190.08" y2="331" stroke="#000" stroke-width="1"/>
<line x1="187.58" y1="325.85" x2="192.58" y2="325.85" stroke="#000" stroke-width="1"/>
<line x1="187.58" y1="331" x2="192.58" y2="331" stroke="#000" stroke-width="1"/>
<circle cx="59.4" cy="317.43" r="2.1" fill="#000"/>
<circle cx="71.28" cy="313.89" r="2.1" fill="#000"/>
<circle cx="83.16" cy="317.11" r="2.1" fill="#000"/>
<circle cx="95.04" cy="292.87" r="2.1" fill="#000"/>
<circle cx="106.92" cy="287.91" r="2.1" fill="#000"/>
<circle cx="118.8" cy="280.13" r="2.1" fill="#000"/>
<circle cx="130.68" cy="276.92" r="2.1" fill="#000"/>
<circle cx="142.56" cy="283.99" r="2.1" fill="#000"/>
<circle cx="154.44" cy="282" r="2.1" fill="#000"/>
<circle cx="166.32" cy="320" r="2.1" fill="#000"/>
<circle cx="178.2" cy="325.98" r="2.1" fill="#000"/>
<circle cx="190.08" cy="328.42" r="2.1" fill="#000"/>
<ellipse cx="26.3" cy="413" rx="3.55" ry="3.15" fill="none" stroke="#222" stroke-width="0.85"/>
<line x1="22.8" y1="416.5" x2="29.8" y2="409.6" stroke="#222" stroke-width="0.8"/>
<line x1="34.9" y1="399.4" x2="34.9" y2="422.8" stroke="#111" stroke-width="1.3"/>
<circle cx="42.3" cy="403" r="2" fill="#666"/>
<text x="49.8" y="404.7" font-size="9.1" fill="#111">WT</text>
<circle cx="42.3" cy="420.2" r="2" fill="#f593f5"/>
<text x="50.4" y="423.6" font-size="9.1" font-style="italic" fill="#111">Pfkl</text>
<text x="65" y="420.8" font-size="5.45" font-style="italic" fill="#111" style="stroke-width:0.11px">S775A/S775A</text>
<text x="134" y="409.8" font-size="9.4" text-anchor="end" fill="#111">TNF</text>
<text x="133.2" y="420.4" font-size="9.2" text-anchor="end" fill="#111">1 h</text>
<line x1="137.6" y1="400.6" x2="137.6" y2="423.9" stroke="#111" stroke-width="1.3"/>
<circle cx="143.2" cy="403.2" r="2" fill="#000"/>
<text x="151.4" y="404.7" font-size="9.1" fill="#111">WT</text>
<circle cx="143" cy="420.2" r="2" fill="#c936d2"/>
<text x="152" y="423.6" font-size="9.1" font-style="italic" fill="#111">Pfkl</text>
<text x="166.8" y="420.8" font-size="5.45" font-style="italic" fill="#111" style="stroke-width:0.11px">S775A/S775A</text>
<line x1="276.6" y1="293" x2="316" y2="293" stroke="#000" stroke-width="1.7" stroke-dasharray="1.8,2.1"/>
<rect x="281.5" y="320.93" width="10.3" height="52.57" fill="#757575" stroke="#111" stroke-width="1.1"/>
<line x1="286.65" y1="317.71" x2="286.65" y2="324.15" stroke="#111" stroke-width="1"/>
<line x1="284.15" y1="317.71" x2="289.15" y2="317.71" stroke="#111" stroke-width="1"/>
<line x1="284.15" y1="324.15" x2="289.15" y2="324.15" stroke="#111" stroke-width="1"/>
<circle cx="283.3" cy="318.3" r="1.9" fill="#000"/>
<circle cx="290.2" cy="314.9" r="1.9" fill="#000"/>
<circle cx="282.9" cy="324.4" r="1.9" fill="#000"/>
<circle cx="290.6" cy="323.9" r="1.9" fill="#000"/>
<rect x="298.1" y="323.27" width="10.4" height="50.23" fill="#d0d0d0" stroke="#aaa" stroke-width="1.1"/>
<line x1="303.3" y1="317.63" x2="303.3" y2="328.9" stroke="#aaa" stroke-width="1"/>
<line x1="300.8" y1="317.63" x2="305.8" y2="317.63" stroke="#aaa" stroke-width="1"/>
<line x1="300.8" y1="328.9" x2="305.8" y2="328.9" stroke="#aaa" stroke-width="1"/>
<circle cx="303.2" cy="311.6" r="1.9" fill="#999"/>
<circle cx="303.2" cy="336.1" r="1.9" fill="#999"/>
<circle cx="303.2" cy="324.5" r="1.9" fill="#999"/>
<line x1="276.1" y1="276.3" x2="276.1" y2="374.1" stroke="#1e1e1e" stroke-width="1.2"/>
<line x1="267.9" y1="373.5" x2="314.8" y2="373.5" stroke="#1e1e1e" stroke-width="1.2"/>
<line x1="267.9" y1="373.5" x2="276.1" y2="373.5" stroke="#1e1e1e" stroke-width="1.2"/>
<text x="265.5" y="376.92" font-size="9.5" text-anchor="end" fill="#111">0.0</text>
<line x1="267.9" y1="341.3" x2="276.1" y2="341.3" stroke="#1e1e1e" stroke-width="1.2"/>
<text x="265.5" y="344.72" font-size="9.5" text-anchor="end" fill="#111">0.4</text>
<line x1="267.9" y1="309.1" x2="276.1" y2="309.1" stroke="#1e1e1e" stroke-width="1.2"/>
<text x="265.5" y="312.52" font-size="9.5" text-anchor="end" fill="#111">0.8</text>
<line x1="267.9" y1="276.9" x2="276.1" y2="276.9" stroke="#1e1e1e" stroke-width="1.2"/>
<text x="265.5" y="280.32" font-size="9.5" text-anchor="end" fill="#111">1.2</text>
<text x="246.2" y="318.9" font-size="9" text-anchor="middle" fill="#111" transform="rotate(-90 246.2 318.9)">Relative ECAR</text>
<text x="288.4" y="272.6" font-size="6.4" text-anchor="middle" fill="#111" transform="rotate(-90 288.4 272.6)" style="stroke-width:0.11px">P = 0.0012</text>
<text x="305.2" y="272.6" font-size="6.4" text-anchor="middle" fill="#111" transform="rotate(-90 305.2 272.6)" style="stroke-width:0.11px">P = 0.0102</text>
<circle cx="256.2" cy="392" r="2" fill="#000"/>
<text x="267.7" y="394.6" font-size="9.45" fill="#111">Glycolysis</text>
<circle cx="256.2" cy="413.9" r="2" fill="#aaa"/>
<text x="267.7" y="411.6" font-size="9.45" fill="#111">Glycolytic</text>
<text x="267.7" y="422.8" font-size="9.45" fill="#111">Capacity</text>
<line x1="425.6" y1="255" x2="425.6" y2="351.3" stroke="#2a2a2a" stroke-width="1.05" stroke-dasharray="4.1,3.8"/>
<line x1="462.3" y1="255" x2="462.3" y2="351.3" stroke="#2a2a2a" stroke-width="1.05" stroke-dasharray="4.1,3.8"/>
<line x1="498.2" y1="255" x2="498.2" y2="351.3" stroke="#2a2a2a" stroke-width="1.05" stroke-dasharray="4.1,3.8"/>
<line x1="399.9" y1="253.95" x2="399.9" y2="351.9" stroke="#1e1e1e" stroke-width="1.2"/>
<line x1="392.4" y1="351.3" x2="546.9" y2="351.3" stroke="#1e1e1e" stroke-width="1.2"/>
<line x1="392.4" y1="351.3" x2="399.9" y2="351.3" stroke="#1e1e1e" stroke-width="1.2"/>
<text x="389.5" y="354.61" font-size="9.2" text-anchor="end" fill="#111">0</text>
<line x1="392.4" y1="331.95" x2="399.9" y2="331.95" stroke="#1e1e1e" stroke-width="1.2"/>
<text x="389.5" y="335.26" font-size="9.2" text-anchor="end" fill="#111">5</text>
<line x1="392.4" y1="312.6" x2="399.9" y2="312.6" stroke="#1e1e1e" stroke-width="1.2"/>
<text x="389.5" y="315.91" font-size="9.2" text-anchor="end" fill="#111">10</text>
<line x1="392.4" y1="293.25" x2="399.9" y2="293.25" stroke="#1e1e1e" stroke-width="1.2"/>
<text x="389.5" y="296.56" font-size="9.2" text-anchor="end" fill="#111">15</text>
<line x1="392.4" y1="273.9" x2="399.9" y2="273.9" stroke="#1e1e1e" stroke-width="1.2"/>
<text x="389.5" y="277.21" font-size="9.2" text-anchor="end" fill="#111">20</text>
<line x1="392.4" y1="254.55" x2="399.9" y2="254.55" stroke="#1e1e1e" stroke-width="1.2"/>
<text x="389.5" y="257.86" font-size="9.2" text-anchor="end" fill="#111">25</text>
<line x1="399.9" y1="351.3" x2="399.9" y2="358.8" stroke="#1e1e1e" stroke-width="1.2"/>
<text x="399.9" y="369.8" font-size="9.2" text-anchor="middle" fill="#111">0</text>
<line x1="436.5" y1="351.3" x2="436.5" y2="358.8" stroke="#1e1e1e" stroke-width="1.2"/>
<text x="436.5" y="369.8" font-size="9.2" text-anchor="middle" fill="#111">20</text>
<line x1="473.1" y1="351.3" x2="473.1" y2="358.8" stroke="#1e1e1e" stroke-width="1.2"/>
<text x="473.1" y="369.8" font-size="9.2" text-anchor="middle" fill="#111">40</text>
<line x1="509.7" y1="351.3" x2="509.7" y2="358.8" stroke="#1e1e1e" stroke-width="1.2"/>
<text x="509.7" y="369.8" font-size="9.2" text-anchor="middle" fill="#111">60</text>
<line x1="546.3" y1="351.3" x2="546.3" y2="358.8" stroke="#1e1e1e" stroke-width="1.2"/>
<text x="546.3" y="369.8" font-size="9.2" text-anchor="middle" fill="#111">80</text>
<text x="473.1" y="384.1" font-size="9" text-anchor="middle" fill="#111">Time (minutes)</text>
<text x="367.1" y="303.1" font-size="9" text-anchor="middle" fill="#111" transform="rotate(-90 367.1 303.1)">ECAR (mpH/min)</text>
<text x="400.4" y="249.8" font-size="9.6" fill="#111">Glucose</text>
<text x="437.4" y="249.8" font-size="9.6" fill="#111">Oligomycin</text>
<text x="488" y="249.8" font-size="9.6" fill="#111">2DG</text>
<polyline points="402.6,335.43 414.53,334.27 426.46,335.24 438.39,325.95 450.32,323.05 462.25,321.5 474.18,319.95 486.11,323.82 498.04,324.21 509.97,339.69 521.9,342.21 533.83,343.56" fill="none" stroke="#f593f5" stroke-width="1.1" stroke-linejoin="round"/>
<line x1="450.32" y1="320.73" x2="450.32" y2="325.37" stroke="#f593f5" stroke-width="1"/>
<line x1="447.82" y1="320.73" x2="452.82" y2="320.73" stroke="#f593f5" stroke-width="1"/>
<line x1="447.82" y1="325.37" x2="452.82" y2="325.37" stroke="#f593f5" stroke-width="1"/>
<circle cx="402.6" cy="335.43" r="2" fill="#f593f5"/>
<circle cx="414.53" cy="334.27" r="2" fill="#f593f5"/>
<circle cx="426.46" cy="335.24" r="2" fill="#f593f5"/>
<circle cx="438.39" cy="325.95" r="2" fill="#f593f5"/>
<circle cx="450.32" cy="323.05" r="2" fill="#f593f5"/>
<circle cx="462.25" cy="321.5" r="2" fill="#f593f5"/>
<circle cx="474.18" cy="319.95" r="2" fill="#f593f5"/>
<circle cx="486.11" cy="323.82" r="2" fill="#f593f5"/>
<circle cx="498.04" cy="324.21" r="2" fill="#f593f5"/>
<circle cx="509.97" cy="339.69" r="2" fill="#f593f5"/>
<circle cx="521.9" cy="342.21" r="2" fill="#f593f5"/>
<circle cx="533.83" cy="343.56" r="2" fill="#f593f5"/>
<polyline points="402.6,337.37 414.53,336.21 426.46,336.4 438.39,327.31 450.32,326.14 462.25,324.02 474.18,321.89 486.11,324.6 498.04,324.21 509.97,339.3 521.9,342.21 533.83,342.79" fill="none" stroke="#6a6a6a" stroke-width="1.1" stroke-linejoin="round"/>
<circle cx="402.6" cy="337.37" r="2" fill="#6a6a6a"/>
<circle cx="414.53" cy="336.21" r="2" fill="#6a6a6a"/>
<circle cx="426.46" cy="336.4" r="2" fill="#6a6a6a"/>
<circle cx="438.39" cy="327.31" r="2" fill="#6a6a6a"/>
<circle cx="450.32" cy="326.14" r="2" fill="#6a6a6a"/>
<circle cx="462.25" cy="324.02" r="2" fill="#6a6a6a"/>
<circle cx="474.18" cy="321.89" r="2" fill="#6a6a6a"/>
<circle cx="486.11" cy="324.6" r="2" fill="#6a6a6a"/>
<circle cx="498.04" cy="324.21" r="2" fill="#6a6a6a"/>
<circle cx="509.97" cy="339.3" r="2" fill="#6a6a6a"/>
<circle cx="521.9" cy="342.21" r="2" fill="#6a6a6a"/>
<circle cx="533.83" cy="342.79" r="2" fill="#6a6a6a"/>
<polyline points="402.6,333.69 414.53,331.95 426.46,333.5 438.39,304.28 450.32,299.64 462.25,296.35 474.18,287.83 486.11,289.77 498.04,289.77 509.97,331.95 521.9,335.24 533.83,336.98" fill="none" stroke="#c936d2" stroke-width="1.1" stroke-linejoin="round"/>
<line x1="438.39" y1="301.18" x2="438.39" y2="307.38" stroke="#c936d2" stroke-width="1"/>
<line x1="435.89" y1="301.18" x2="440.89" y2="301.18" stroke="#c936d2" stroke-width="1"/>
<line x1="435.89" y1="307.38" x2="440.89" y2="307.38" stroke="#c936d2" stroke-width="1"/>
<line x1="450.32" y1="297.31" x2="450.32" y2="301.96" stroke="#c936d2" stroke-width="1"/>
<line x1="447.82" y1="297.31" x2="452.82" y2="297.31" stroke="#c936d2" stroke-width="1"/>
<line x1="447.82" y1="301.96" x2="452.82" y2="301.96" stroke="#c936d2" stroke-width="1"/>
<line x1="462.25" y1="293.83" x2="462.25" y2="298.86" stroke="#c936d2" stroke-width="1"/>
<line x1="459.75" y1="293.83" x2="464.75" y2="293.83" stroke="#c936d2" stroke-width="1"/>
<line x1="459.75" y1="298.86" x2="464.75" y2="298.86" stroke="#c936d2" stroke-width="1"/>
<line x1="474.18" y1="283.96" x2="474.18" y2="291.7" stroke="#c936d2" stroke-width="1"/>
<line x1="471.68" y1="283.96" x2="476.68" y2="283.96" stroke="#c936d2" stroke-width="1"/>
<line x1="471.68" y1="291.7" x2="476.68" y2="291.7" stroke="#c936d2" stroke-width="1"/>
<line x1="486.11" y1="285.32" x2="486.11" y2="294.22" stroke="#c936d2" stroke-width="1"/>
<line x1="483.61" y1="285.32" x2="488.61" y2="285.32" stroke="#c936d2" stroke-width="1"/>
<line x1="483.61" y1="294.22" x2="488.61" y2="294.22" stroke="#c936d2" stroke-width="1"/>
<line x1="498.04" y1="284.74" x2="498.04" y2="294.8" stroke="#c936d2" stroke-width="1"/>
<line x1="495.54" y1="284.74" x2="500.54" y2="284.74" stroke="#c936d2" stroke-width="1"/>
<line x1="495.54" y1="294.8" x2="500.54" y2="294.8" stroke="#c936d2" stroke-width="1"/>
<circle cx="402.6" cy="333.69" r="2" fill="#c936d2"/>
<circle cx="414.53" cy="331.95" r="2" fill="#c936d2"/>
<circle cx="426.46" cy="333.5" r="2" fill="#c936d2"/>
<circle cx="438.39" cy="304.28" r="2" fill="#c936d2"/>
<circle cx="450.32" cy="299.64" r="2" fill="#c936d2"/>
<circle cx="462.25" cy="296.35" r="2" fill="#c936d2"/>
<circle cx="474.18" cy="287.83" r="2" fill="#c936d2"/>
<circle cx="486.11" cy="289.77" r="2" fill="#c936d2"/>
<circle cx="498.04" cy="289.77" r="2" fill="#c936d2"/>
<circle cx="509.97" cy="331.95" r="2" fill="#c936d2"/>
<circle cx="521.9" cy="335.24" r="2" fill="#c936d2"/>
<circle cx="533.83" cy="336.98" r="2" fill="#c936d2"/>
<polyline points="402.6,331.95 414.53,330.01 426.46,331.18 438.39,290.93 450.32,284.74 462.25,280.48 474.18,267.71 486.11,267.71 498.04,266.55 509.97,327.69 521.9,332.14 533.83,333.5" fill="none" stroke="#000" stroke-width="1.1" stroke-linejoin="round"/>
<line x1="438.39" y1="288.03" x2="438.39" y2="293.83" stroke="#000" stroke-width="1"/>
<line x1="435.89" y1="288.03" x2="440.89" y2="288.03" stroke="#000" stroke-width="1"/>
<line x1="435.89" y1="293.83" x2="440.89" y2="293.83" stroke="#000" stroke-width="1"/>
<line x1="450.32" y1="281.83" x2="450.32" y2="287.64" stroke="#000" stroke-width="1"/>
<line x1="447.82" y1="281.83" x2="452.82" y2="281.83" stroke="#000" stroke-width="1"/>
<line x1="447.82" y1="287.64" x2="452.82" y2="287.64" stroke="#000" stroke-width="1"/>
<line x1="462.25" y1="277.58" x2="462.25" y2="283.38" stroke="#000" stroke-width="1"/>
<line x1="459.75" y1="277.58" x2="464.75" y2="277.58" stroke="#000" stroke-width="1"/>
<line x1="459.75" y1="283.38" x2="464.75" y2="283.38" stroke="#000" stroke-width="1"/>
<line x1="474.18" y1="264.22" x2="474.18" y2="271.19" stroke="#000" stroke-width="1"/>
<line x1="471.68" y1="264.22" x2="476.68" y2="264.22" stroke="#000" stroke-width="1"/>
<line x1="471.68" y1="271.19" x2="476.68" y2="271.19" stroke="#000" stroke-width="1"/>
<line x1="486.11" y1="264.22" x2="486.11" y2="271.19" stroke="#000" stroke-width="1"/>
<line x1="483.61" y1="264.22" x2="488.61" y2="264.22" stroke="#000" stroke-width="1"/>
<line x1="483.61" y1="271.19" x2="488.61" y2="271.19" stroke="#000" stroke-width="1"/>
<line x1="498.04" y1="262.48" x2="498.04" y2="270.61" stroke="#000" stroke-width="1"/>
<line x1="495.54" y1="262.48" x2="500.54" y2="262.48" stroke="#000" stroke-width="1"/>
<line x1="495.54" y1="270.61" x2="500.54" y2="270.61" stroke="#000" stroke-width="1"/>
<circle cx="402.6" cy="331.95" r="2.1" fill="#000"/>
<circle cx="414.53" cy="330.01" r="2.1" fill="#000"/>
<circle cx="426.46" cy="331.18" r="2.1" fill="#000"/>
<circle cx="438.39" cy="290.93" r="2.1" fill="#000"/>
<circle cx="450.32" cy="284.74" r="2.1" fill="#000"/>
<circle cx="462.25" cy="280.48" r="2.1" fill="#000"/>
<circle cx="474.18" cy="267.71" r="2.1" fill="#000"/>
<circle cx="486.11" cy="267.71" r="2.1" fill="#000"/>
<circle cx="498.04" cy="266.55" r="2.1" fill="#000"/>
<circle cx="509.97" cy="327.69" r="2.1" fill="#000"/>
<circle cx="521.9" cy="332.14" r="2.1" fill="#000"/>
<circle cx="533.83" cy="333.5" r="2.1" fill="#000"/>
<circle cx="533.7" cy="344.4" r="2" fill="#3cc43c"/>
<ellipse cx="369.7" cy="413" rx="3.55" ry="3.15" fill="none" stroke="#222" stroke-width="0.85"/>
<line x1="366.2" y1="416.5" x2="373.2" y2="409.6" stroke="#222" stroke-width="0.8"/>
<line x1="378.3" y1="399.4" x2="378.3" y2="422.8" stroke="#111" stroke-width="1.3"/>
<circle cx="385.7" cy="403" r="2" fill="#666"/>
<text x="393.2" y="404.7" font-size="9.1" fill="#111">WT</text>
<circle cx="385.7" cy="420.2" r="2" fill="#f593f5"/>
<text x="393.8" y="423.6" font-size="9.1" font-style="italic" fill="#111">Pfkl</text>
<text x="408.4" y="420.8" font-size="5.45" font-style="italic" fill="#111" style="stroke-width:0.11px">S775A/S775A</text>
<text x="477.4" y="409.8" font-size="9.4" text-anchor="end" fill="#111">TNF</text>
<text x="476.6" y="420.4" font-size="9.2" text-anchor="end" fill="#111">24 h</text>
<line x1="481" y1="400.6" x2="481" y2="423.9" stroke="#111" stroke-width="1.3"/>
<circle cx="486.6" cy="403.2" r="2" fill="#000"/>
<text x="494.8" y="404.7" font-size="9.1" fill="#111">WT</text>
<circle cx="486.4" cy="420.2" r="2" fill="#c936d2"/>
<text x="495.4" y="423.6" font-size="9.1" font-style="italic" fill="#111">Pfkl</text>
<text x="510.2" y="420.8" font-size="5.45" font-style="italic" fill="#111" style="stroke-width:0.11px">S775A/S775A</text>
<line x1="621.4" y1="292.2" x2="661" y2="292.2" stroke="#000" stroke-width="1.7" stroke-dasharray="1.8,2.1"/>
<rect x="626.5" y="304.32" width="10.6" height="68.68" fill="#717171" stroke="#1a1a1a" stroke-width="1.1"/>
<line x1="631.8" y1="299.47" x2="631.8" y2="309.17" stroke="#1a1a1a" stroke-width="1"/>
<line x1="629.3" y1="299.47" x2="634.3" y2="299.47" stroke="#1a1a1a" stroke-width="1"/>
<line x1="629.3" y1="309.17" x2="634.3" y2="309.17" stroke="#1a1a1a" stroke-width="1"/>
<circle cx="632.2" cy="296.1" r="1.9" fill="#000"/>
<circle cx="628.6" cy="300.6" r="1.9" fill="#000"/>
<circle cx="635.2" cy="300.2" r="1.9" fill="#000"/>
<circle cx="632.2" cy="309" r="1.9" fill="#000"/>
<circle cx="632.2" cy="315" r="1.9" fill="#000"/>
<rect x="643.3" y="307.15" width="10.6" height="65.85" fill="#d3d3d3" stroke="#aaa" stroke-width="1.1"/>
<line x1="648.6" y1="302.3" x2="648.6" y2="312" stroke="#aaa" stroke-width="1"/>
<line x1="646.1" y1="302.3" x2="651.1" y2="302.3" stroke="#aaa" stroke-width="1"/>
<line x1="646.1" y1="312" x2="651.1" y2="312" stroke="#aaa" stroke-width="1"/>
<circle cx="644.8" cy="298.2" r="1.9" fill="#aaa"/>
<circle cx="652.5" cy="300.6" r="1.9" fill="#aaa"/>
<circle cx="648.8" cy="310" r="1.9" fill="#aaa"/>
<circle cx="648.8" cy="319.8" r="1.9" fill="#aaa"/>
<circle cx="644.8" cy="302" r="1.9" fill="#aaa"/>
<line x1="620.9" y1="275.44" x2="620.9" y2="373.6" stroke="#1e1e1e" stroke-width="1.2"/>
<line x1="612.7" y1="373" x2="659.5" y2="373" stroke="#1e1e1e" stroke-width="1.2"/>
<line x1="612.7" y1="373" x2="620.9" y2="373" stroke="#1e1e1e" stroke-width="1.2"/>
<text x="610.3" y="376.31" font-size="9.2" text-anchor="end" fill="#111">0.0</text>
<line x1="612.7" y1="340.68" x2="620.9" y2="340.68" stroke="#1e1e1e" stroke-width="1.2"/>
<text x="610.3" y="343.99" font-size="9.2" text-anchor="end" fill="#111">0.4</text>
<line x1="612.7" y1="308.36" x2="620.9" y2="308.36" stroke="#1e1e1e" stroke-width="1.2"/>
<text x="610.3" y="311.67" font-size="9.2" text-anchor="end" fill="#111">0.8</text>
<line x1="612.7" y1="276.04" x2="620.9" y2="276.04" stroke="#1e1e1e" stroke-width="1.2"/>
<text x="610.3" y="279.35" font-size="9.2" text-anchor="end" fill="#111">1.2</text>
<text x="590.1" y="318.9" font-size="9" text-anchor="middle" fill="#111" transform="rotate(-90 590.1 318.9)">Relative ECAR</text>
<text x="632.6" y="272.6" font-size="6.4" text-anchor="middle" fill="#111" transform="rotate(-90 632.6 272.6)" style="stroke-width:0.11px">P = 0.0238</text>
<text x="650.8" y="272.6" font-size="6.4" text-anchor="middle" fill="#111" transform="rotate(-90 650.8 272.6)" style="stroke-width:0.11px">P = 0.0199</text>
<circle cx="605.5" cy="392" r="2" fill="#000"/>
<text x="617.1" y="394.6" font-size="9.45" fill="#111">Glycolysis</text>
<circle cx="605.5" cy="413.5" r="2" fill="#aaa"/>
<text x="617.1" y="411.6" font-size="9.45" fill="#111">Glycolytic</text>
<text x="617.1" y="422.8" font-size="9.45" fill="#111">Capacity</text>
<rect x="49.3" y="618.19" width="7.5" height="4.01" fill="#6e6e6e" stroke="#111" stroke-width="1.1"/>
<line x1="53.05" y1="617.38" x2="53.05" y2="618.99" stroke="#111" stroke-width="1"/>
<line x1="50.45" y1="617.38" x2="55.65" y2="617.38" stroke="#111" stroke-width="1"/>
<line x1="50.45" y1="618.99" x2="55.65" y2="618.99" stroke="#111" stroke-width="1"/>
<circle cx="51" cy="618.99" r="1.9" fill="#000"/>
<circle cx="53" cy="616.58" r="1.9" fill="#000"/>
<circle cx="55" cy="618.67" r="1.9" fill="#000"/>
<rect x="61.8" y="618.99" width="7.6" height="3.21" fill="#e8a2ea" stroke="#c936d2" stroke-width="1.1"/>
<line x1="65.6" y1="618.19" x2="65.6" y2="619.79" stroke="#c936d2" stroke-width="1"/>
<line x1="63" y1="618.19" x2="68.2" y2="618.19" stroke="#c936d2" stroke-width="1"/>
<line x1="63" y1="619.79" x2="68.2" y2="619.79" stroke="#c936d2" stroke-width="1"/>
<circle cx="63.5" cy="619.79" r="1.9" fill="#c936d2"/>
<circle cx="65.6" cy="617.38" r="1.9" fill="#c936d2"/>
<circle cx="67.6" cy="619.31" r="1.9" fill="#c936d2"/>
<rect x="82.6" y="580.47" width="7.9" height="41.73" fill="#6e6e6e" stroke="#111" stroke-width="1.1"/>
<line x1="86.55" y1="577.26" x2="86.55" y2="583.68" stroke="#111" stroke-width="1"/>
<line x1="83.95" y1="577.26" x2="89.15" y2="577.26" stroke="#111" stroke-width="1"/>
<line x1="83.95" y1="583.68" x2="89.15" y2="583.68" stroke="#111" stroke-width="1"/>
<circle cx="86.5" cy="574.85" r="1.9" fill="#000"/>
<circle cx="86.5" cy="577.26" r="1.9" fill="#000"/>
<circle cx="86.5" cy="585.29" r="1.9" fill="#000"/>
<rect x="95.4" y="606.95" width="8.2" height="15.25" fill="#e8a2ea" stroke="#c936d2" stroke-width="1.1"/>
<line x1="99.5" y1="604.55" x2="99.5" y2="609.36" stroke="#c936d2" stroke-width="1"/>
<line x1="96.9" y1="604.55" x2="102.1" y2="604.55" stroke="#c936d2" stroke-width="1"/>
<line x1="96.9" y1="609.36" x2="102.1" y2="609.36" stroke="#c936d2" stroke-width="1"/>
<circle cx="99.4" cy="602.14" r="1.9" fill="#c936d2"/>
<circle cx="99.4" cy="609.36" r="1.9" fill="#c936d2"/>
<circle cx="99.4" cy="606.15" r="1.9" fill="#c936d2"/>
<rect x="116.5" y="544.36" width="8.1" height="77.84" fill="#6e6e6e" stroke="#111" stroke-width="1.1"/>
<line x1="120.55" y1="541.15" x2="120.55" y2="547.57" stroke="#111" stroke-width="1"/>
<line x1="117.95" y1="541.15" x2="123.15" y2="541.15" stroke="#111" stroke-width="1"/>
<line x1="117.95" y1="547.57" x2="123.15" y2="547.57" stroke="#111" stroke-width="1"/>
<circle cx="119.8" cy="538.74" r="1.9" fill="#000"/>
<circle cx="118.5" cy="546.77" r="1.9" fill="#000"/>
<circle cx="123" cy="546.77" r="1.9" fill="#000"/>
<rect x="128.7" y="588.17" width="8.3" height="34.03" fill="#e8a2ea" stroke="#c936d2" stroke-width="1.1"/>
<line x1="132.85" y1="579.35" x2="132.85" y2="597" stroke="#c936d2" stroke-width="1"/>
<line x1="130.25" y1="579.35" x2="135.45" y2="579.35" stroke="#c936d2" stroke-width="1"/>
<line x1="130.25" y1="597" x2="135.45" y2="597" stroke="#c936d2" stroke-width="1"/>
<circle cx="132.9" cy="572.12" r="1.9" fill="#c936d2"/>
<circle cx="132.9" cy="590.1" r="1.9" fill="#c936d2"/>
<circle cx="132.9" cy="602.94" r="1.9" fill="#c936d2"/>
<polyline points="52.3,610.9 52.3,606.7 64.8,606.7 64.8,610.9" fill="none" stroke="#000" stroke-width="1.1"/>
<text x="61.15" y="603.8" font-size="6.4" fill="#111" transform="rotate(-90 61.15 603.8)" style="stroke-width:0.11px">P = 0.4449</text>
<polyline points="86.5,570.2 86.5,566 99.3,566 99.3,570.2" fill="none" stroke="#000" stroke-width="1.1"/>
<text x="95.5" y="563.1" font-size="6.4" fill="#111" transform="rotate(-90 95.5 563.1)" style="stroke-width:0.11px">P = 0.0036</text>
<polyline points="121.5,533 121.5,528.8 134.7,528.8 134.7,533" fill="none" stroke="#000" stroke-width="1.1"/>
<text x="130.7" y="525.9" font-size="6.4" fill="#111" transform="rotate(-90 130.7 525.9)" style="stroke-width:0.11px">P = 0.0101</text>
<line x1="44.9" y1="525.3" x2="44.9" y2="622.8" stroke="#1e1e1e" stroke-width="1.2"/>
<line x1="37.4" y1="622.2" x2="141.2" y2="622.2" stroke="#1e1e1e" stroke-width="1.2"/>
<line x1="37.4" y1="622.2" x2="44.9" y2="622.2" stroke="#1e1e1e" stroke-width="1.2"/>
<text x="34.9" y="625.3" font-size="8.6" text-anchor="end" fill="#111">0</text>
<line x1="37.4" y1="590.1" x2="44.9" y2="590.1" stroke="#1e1e1e" stroke-width="1.2"/>
<text x="34.9" y="593.2" font-size="8.6" text-anchor="end" fill="#111">2</text>
<line x1="37.4" y1="558" x2="44.9" y2="558" stroke="#1e1e1e" stroke-width="1.2"/>
<text x="34.9" y="561.1" font-size="8.6" text-anchor="end" fill="#111">4</text>
<line x1="37.4" y1="525.9" x2="44.9" y2="525.9" stroke="#1e1e1e" stroke-width="1.2"/>
<text x="34.9" y="529" font-size="8.6" text-anchor="end" fill="#111">6</text>
<line x1="52.2" y1="627.6" x2="72.8" y2="627.6" stroke="#2a2a2a" stroke-width="1.2"/>
<text x="60.1" y="639" font-size="8.2" text-anchor="middle" fill="#111">&#216;</text>
<line x1="85.4" y1="627.6" x2="106.4" y2="627.6" stroke="#2a2a2a" stroke-width="1.2"/>
<text x="93.2" y="639" font-size="8.2" text-anchor="middle" fill="#111">30 min</text>
<line x1="119.2" y1="627.6" x2="140" y2="627.6" stroke="#2a2a2a" stroke-width="1.2"/>
<text x="127.2" y="639" font-size="8.2" text-anchor="middle" fill="#111">120 min</text>
<text x="99.6" y="481.8" font-size="9.2" text-anchor="middle" fill="#111">F6P m+6</text>
<text x="8.2" y="574.3" font-size="9.2" text-anchor="middle" fill="#111" transform="rotate(-90 8.2 574.3)">Relative peak area</text>
<text x="19.6" y="573.5" font-size="9.35" text-anchor="middle" fill="#111" transform="rotate(-90 19.6 573.5)">(Analyte / Internal standard)</text>
<rect x="206" y="618.6" width="7.8" height="2.7" fill="#6e6e6e" stroke="#111" stroke-width="1.1"/>
<circle cx="207.8" cy="618.6" r="1.9" fill="#000"/>
<circle cx="210" cy="618.6" r="1.9" fill="#000"/>
<circle cx="212" cy="618.6" r="1.9" fill="#000"/>
<rect x="218.7" y="618.98" width="7.9" height="2.32" fill="#e8a2ea" stroke="#c936d2" stroke-width="1.1"/>
<circle cx="220.5" cy="618.98" r="1.9" fill="#c936d2"/>
<circle cx="222.6" cy="618.6" r="1.9" fill="#c936d2"/>
<circle cx="224.6" cy="618.98" r="1.9" fill="#c936d2"/>
<rect x="239.3" y="559.54" width="8.2" height="61.76" fill="#6e6e6e" stroke="#111" stroke-width="1.1"/>
<line x1="243.4" y1="552.59" x2="243.4" y2="566.49" stroke="#111" stroke-width="1"/>
<line x1="240.8" y1="552.59" x2="246" y2="552.59" stroke="#111" stroke-width="1"/>
<line x1="240.8" y1="566.49" x2="246" y2="566.49" stroke="#111" stroke-width="1"/>
<circle cx="243.4" cy="547.19" r="1.9" fill="#000"/>
<circle cx="243.4" cy="559.54" r="1.9" fill="#000"/>
<circle cx="243.4" cy="569.96" r="1.9" fill="#000"/>
<rect x="252.3" y="608.18" width="8.2" height="13.12" fill="#e8a2ea" stroke="#c936d2" stroke-width="1.1"/>
<line x1="256.4" y1="605.09" x2="256.4" y2="611.26" stroke="#c936d2" stroke-width="1"/>
<line x1="253.8" y1="605.09" x2="259" y2="605.09" stroke="#c936d2" stroke-width="1"/>
<line x1="253.8" y1="611.26" x2="259" y2="611.26" stroke="#c936d2" stroke-width="1"/>
<circle cx="256.4" cy="602" r="1.9" fill="#c936d2"/>
<circle cx="254.5" cy="609.72" r="1.9" fill="#c936d2"/>
<circle cx="258.5" cy="611.65" r="1.9" fill="#c936d2"/>
<rect x="273.2" y="582.7" width="8.3" height="38.6" fill="#6e6e6e" stroke="#111" stroke-width="1.1"/>
<line x1="277.35" y1="581.54" x2="277.35" y2="583.86" stroke="#111" stroke-width="1"/>
<line x1="274.75" y1="581.54" x2="279.95" y2="581.54" stroke="#111" stroke-width="1"/>
<line x1="274.75" y1="583.86" x2="279.95" y2="583.86" stroke="#111" stroke-width="1"/>
<circle cx="275" cy="581.93" r="1.9" fill="#000"/>
<circle cx="277.5" cy="583.86" r="1.9" fill="#000"/>
<circle cx="280" cy="582.7" r="1.9" fill="#000"/>
<rect x="286.2" y="599.68" width="7.8" height="21.62" fill="#e8a2ea" stroke="#c936d2" stroke-width="1.1"/>
<line x1="290.1" y1="593.12" x2="290.1" y2="606.25" stroke="#c936d2" stroke-width="1"/>
<line x1="287.5" y1="593.12" x2="292.7" y2="593.12" stroke="#c936d2" stroke-width="1"/>
<line x1="287.5" y1="606.25" x2="292.7" y2="606.25" stroke="#c936d2" stroke-width="1"/>
<circle cx="289.9" cy="590.42" r="1.9" fill="#c936d2"/>
<circle cx="289.9" cy="598.14" r="1.9" fill="#c936d2"/>
<circle cx="289.9" cy="611.65" r="1.9" fill="#c936d2"/>
<polyline points="209.1,615.6 209.1,611.4 221.4,611.4 221.4,615.6" fill="none" stroke="#000" stroke-width="1.1"/>
<text x="217.85" y="608.5" font-size="6.4" fill="#111" transform="rotate(-90 217.85 608.5)" style="stroke-width:0.11px">P = 0.7889</text>
<polyline points="243.4,543.6 243.4,539.4 256,539.4 256,543.6" fill="none" stroke="#000" stroke-width="1.1"/>
<text x="252.3" y="536.5" font-size="6.4" fill="#111" transform="rotate(-90 252.3 536.5)" style="stroke-width:0.11px">P = 0.0025</text>
<polyline points="277.4,575.3 277.4,571.1 290.3,571.1 290.3,575.3" fill="none" stroke="#000" stroke-width="1.1"/>
<text x="286.45" y="568.2" font-size="6.4" fill="#111" transform="rotate(-90 286.45 568.2)" style="stroke-width:0.11px">P = 0.0631</text>
<line x1="201.9" y1="524.2" x2="201.9" y2="621.9" stroke="#1e1e1e" stroke-width="1.2"/>
<line x1="194.4" y1="621.3" x2="298.5" y2="621.3" stroke="#1e1e1e" stroke-width="1.2"/>
<line x1="194.4" y1="621.3" x2="201.9" y2="621.3" stroke="#1e1e1e" stroke-width="1.2"/>
<text x="191.9" y="624.4" font-size="8.6" text-anchor="end" fill="#111">0.0</text>
<line x1="194.4" y1="602" x2="201.9" y2="602" stroke="#1e1e1e" stroke-width="1.2"/>
<text x="191.9" y="605.1" font-size="8.6" text-anchor="end" fill="#111">0.5</text>
<line x1="194.4" y1="582.7" x2="201.9" y2="582.7" stroke="#1e1e1e" stroke-width="1.2"/>
<text x="191.9" y="585.8" font-size="8.6" text-anchor="end" fill="#111">1.0</text>
<line x1="194.4" y1="563.4" x2="201.9" y2="563.4" stroke="#1e1e1e" stroke-width="1.2"/>
<text x="191.9" y="566.5" font-size="8.6" text-anchor="end" fill="#111">1.5</text>
<line x1="194.4" y1="544.1" x2="201.9" y2="544.1" stroke="#1e1e1e" stroke-width="1.2"/>
<text x="191.9" y="547.2" font-size="8.6" text-anchor="end" fill="#111">2.0</text>
<line x1="194.4" y1="524.8" x2="201.9" y2="524.8" stroke="#1e1e1e" stroke-width="1.2"/>
<text x="191.9" y="527.9" font-size="8.6" text-anchor="end" fill="#111">2.5</text>
<line x1="206" y1="627.6" x2="226.2" y2="627.6" stroke="#2a2a2a" stroke-width="1.2"/>
<text x="217.9" y="639" font-size="8.2" text-anchor="middle" fill="#111">&#216;</text>
<line x1="239.3" y1="627.6" x2="259.9" y2="627.6" stroke="#2a2a2a" stroke-width="1.2"/>
<text x="251.2" y="639" font-size="8.2" text-anchor="middle" fill="#111">30 min</text>
<line x1="272.8" y1="627.6" x2="293.4" y2="627.6" stroke="#2a2a2a" stroke-width="1.2"/>
<text x="284.6" y="639" font-size="8.2" text-anchor="middle" fill="#111">120 min</text>
<text x="262.7" y="481.8" font-size="9" text-anchor="middle" fill="#111">F1,6BP m+6</text>
<rect x="353.2" y="616.26" width="8.4" height="4.84" fill="#6e6e6e" stroke="#111" stroke-width="1.1"/>
<line x1="357.4" y1="615.29" x2="357.4" y2="617.23" stroke="#111" stroke-width="1"/>
<line x1="354.8" y1="615.29" x2="360" y2="615.29" stroke="#111" stroke-width="1"/>
<line x1="354.8" y1="617.23" x2="360" y2="617.23" stroke="#111" stroke-width="1"/>
<circle cx="355" cy="616.26" r="1.9" fill="#000"/>
<circle cx="357.4" cy="615.05" r="1.9" fill="#000"/>
<circle cx="359.8" cy="616.26" r="1.9" fill="#000"/>
<rect x="366" y="616.26" width="8.2" height="4.84" fill="#e8a2ea" stroke="#c936d2" stroke-width="1.1"/>
<line x1="370.1" y1="615.29" x2="370.1" y2="617.23" stroke="#c936d2" stroke-width="1"/>
<line x1="367.5" y1="615.29" x2="372.7" y2="615.29" stroke="#c936d2" stroke-width="1"/>
<line x1="367.5" y1="617.23" x2="372.7" y2="617.23" stroke="#c936d2" stroke-width="1"/>
<circle cx="367.8" cy="616.26" r="1.9" fill="#c936d2"/>
<circle cx="370.1" cy="614.57" r="1.9" fill="#c936d2"/>
<circle cx="372.4" cy="616.26" r="1.9" fill="#c936d2"/>
<rect x="386.8" y="541.97" width="8" height="79.13" fill="#6e6e6e" stroke="#111" stroke-width="1.1"/>
<line x1="390.8" y1="537.13" x2="390.8" y2="546.81" stroke="#111" stroke-width="1"/>
<line x1="388.2" y1="537.13" x2="393.4" y2="537.13" stroke="#111" stroke-width="1"/>
<line x1="388.2" y1="546.81" x2="393.4" y2="546.81" stroke="#111" stroke-width="1"/>
<circle cx="390.3" cy="531.56" r="1.9" fill="#000"/>
<circle cx="390.3" cy="543.66" r="1.9" fill="#000"/>
<circle cx="390.3" cy="551.65" r="1.9" fill="#000"/>
<rect x="399.6" y="590.61" width="8.2" height="30.49" fill="#e8a2ea" stroke="#c936d2" stroke-width="1.1"/>
<line x1="403.7" y1="584.56" x2="403.7" y2="596.66" stroke="#c936d2" stroke-width="1"/>
<line x1="401.1" y1="584.56" x2="406.3" y2="584.56" stroke="#c936d2" stroke-width="1"/>
<line x1="401.1" y1="596.66" x2="406.3" y2="596.66" stroke="#c936d2" stroke-width="1"/>
<circle cx="403.6" cy="580.69" r="1.9" fill="#c936d2"/>
<circle cx="403.6" cy="590.85" r="1.9" fill="#c936d2"/>
<circle cx="403.6" cy="600.53" r="1.9" fill="#c936d2"/>
<rect x="420.6" y="563.5" width="8.2" height="57.6" fill="#6e6e6e" stroke="#111" stroke-width="1.1"/>
<line x1="424.7" y1="560.6" x2="424.7" y2="566.41" stroke="#111" stroke-width="1"/>
<line x1="422.1" y1="560.6" x2="427.3" y2="560.6" stroke="#111" stroke-width="1"/>
<line x1="422.1" y1="566.41" x2="427.3" y2="566.41" stroke="#111" stroke-width="1"/>
<circle cx="424.7" cy="559.39" r="1.9" fill="#000"/>
<circle cx="424.7" cy="563.02" r="1.9" fill="#000"/>
<circle cx="424.7" cy="567.86" r="1.9" fill="#000"/>
<rect x="433.2" y="579.96" width="8.4" height="41.14" fill="#e8a2ea" stroke="#c936d2" stroke-width="1.1"/>
<line x1="437.4" y1="571.01" x2="437.4" y2="588.91" stroke="#c936d2" stroke-width="1"/>
<line x1="434.8" y1="571.01" x2="440" y2="571.01" stroke="#c936d2" stroke-width="1"/>
<line x1="434.8" y1="588.91" x2="440" y2="588.91" stroke="#c936d2" stroke-width="1"/>
<circle cx="433.9" cy="570.76" r="1.9" fill="#c936d2"/>
<circle cx="439.8" cy="570.76" r="1.9" fill="#c936d2"/>
<circle cx="437.2" cy="597.38" r="1.9" fill="#c936d2"/>
<polyline points="357.2,611.4 357.2,607.2 369.8,607.2 369.8,611.4" fill="none" stroke="#000" stroke-width="1.1"/>
<text x="366.1" y="604.3" font-size="6.4" fill="#111" transform="rotate(-90 366.1 604.3)" style="stroke-width:0.11px">P = 0.6502</text>
<polyline points="391.4,528.1 391.4,523.9 404,523.9 404,528.1" fill="none" stroke="#000" stroke-width="1.1"/>
<text x="400.3" y="521" font-size="6.4" fill="#111" transform="rotate(-90 400.3 521)" style="stroke-width:0.11px">P = 0.0034</text>
<polyline points="425.7,553.9 425.7,549.7 438.7,549.7 438.7,553.9" fill="none" stroke="#000" stroke-width="1.1"/>
<text x="434.8" y="546.8" font-size="6.4" fill="#111" transform="rotate(-90 434.8 546.8)" style="stroke-width:0.11px">P = 0.1624</text>
<line x1="347.7" y1="523.7" x2="347.7" y2="621.7" stroke="#1e1e1e" stroke-width="1.2"/>
<line x1="340.2" y1="621.1" x2="445.4" y2="621.1" stroke="#1e1e1e" stroke-width="1.2"/>
<line x1="340.2" y1="621.1" x2="347.7" y2="621.1" stroke="#1e1e1e" stroke-width="1.2"/>
<text x="337.7" y="624.2" font-size="8.6" text-anchor="end" fill="#111">0</text>
<line x1="340.2" y1="596.9" x2="347.7" y2="596.9" stroke="#1e1e1e" stroke-width="1.2"/>
<text x="337.7" y="600" font-size="8.6" text-anchor="end" fill="#111">1</text>
<line x1="340.2" y1="572.7" x2="347.7" y2="572.7" stroke="#1e1e1e" stroke-width="1.2"/>
<text x="337.7" y="575.8" font-size="8.6" text-anchor="end" fill="#111">2</text>
<line x1="340.2" y1="548.5" x2="347.7" y2="548.5" stroke="#1e1e1e" stroke-width="1.2"/>
<text x="337.7" y="551.6" font-size="8.6" text-anchor="end" fill="#111">3</text>
<line x1="340.2" y1="524.3" x2="347.7" y2="524.3" stroke="#1e1e1e" stroke-width="1.2"/>
<text x="337.7" y="527.4" font-size="8.6" text-anchor="end" fill="#111">4</text>
<line x1="353.2" y1="627.6" x2="373.5" y2="627.6" stroke="#2a2a2a" stroke-width="1.2"/>
<text x="364.3" y="639" font-size="8.2" text-anchor="middle" fill="#111">&#216;</text>
<line x1="386.6" y1="627.6" x2="406.8" y2="627.6" stroke="#2a2a2a" stroke-width="1.2"/>
<text x="397" y="639" font-size="8.2" text-anchor="middle" fill="#111">30 min</text>
<line x1="420.2" y1="627.6" x2="440.8" y2="627.6" stroke="#2a2a2a" stroke-width="1.2"/>
<text x="430.6" y="639" font-size="8.2" text-anchor="middle" fill="#111">120 min</text>
<text x="403.05" y="481.8" font-size="9.35" text-anchor="middle" fill="#111">DHAP m+3</text>
<rect x="513.7" y="620.29" width="7.8" height="1.21" fill="#6e6e6e" stroke="#111" stroke-width="1.1"/>
<circle cx="515.5" cy="620.29" r="1.9" fill="#000"/>
<circle cx="517.6" cy="620.05" r="1.9" fill="#000"/>
<circle cx="519.7" cy="620.29" r="1.9" fill="#000"/>
<rect x="526.5" y="619.09" width="8.2" height="2.41" fill="#e8a2ea" stroke="#c936d2" stroke-width="1.1"/>
<line x1="530.6" y1="618.61" x2="530.6" y2="619.57" stroke="#c936d2" stroke-width="1"/>
<line x1="528" y1="618.61" x2="533.2" y2="618.61" stroke="#c936d2" stroke-width="1"/>
<line x1="528" y1="619.57" x2="533.2" y2="619.57" stroke="#c936d2" stroke-width="1"/>
<circle cx="528.5" cy="619.09" r="1.9" fill="#c936d2"/>
<circle cx="530.6" cy="618.61" r="1.9" fill="#c936d2"/>
<circle cx="532.7" cy="619.09" r="1.9" fill="#c936d2"/>
<rect x="547.3" y="551.37" width="8" height="70.13" fill="#6e6e6e" stroke="#111" stroke-width="1.1"/>
<line x1="551.3" y1="546.79" x2="551.3" y2="555.95" stroke="#111" stroke-width="1"/>
<line x1="548.7" y1="546.79" x2="553.9" y2="546.79" stroke="#111" stroke-width="1"/>
<line x1="548.7" y1="555.95" x2="553.9" y2="555.95" stroke="#111" stroke-width="1"/>
<circle cx="550.6" cy="542.21" r="1.9" fill="#000"/>
<circle cx="549.5" cy="555.23" r="1.9" fill="#000"/>
<circle cx="553.5" cy="556.43" r="1.9" fill="#000"/>
<rect x="559.5" y="596.68" width="8.4" height="24.82" fill="#e8a2ea" stroke="#c936d2" stroke-width="1.1"/>
<line x1="563.7" y1="590.65" x2="563.7" y2="602.7" stroke="#c936d2" stroke-width="1"/>
<line x1="561.1" y1="590.65" x2="566.3" y2="590.65" stroke="#c936d2" stroke-width="1"/>
<line x1="561.1" y1="602.7" x2="566.3" y2="602.7" stroke="#c936d2" stroke-width="1"/>
<circle cx="561.7" cy="588.72" r="1.9" fill="#c936d2"/>
<circle cx="566.3" cy="591.62" r="1.9" fill="#c936d2"/>
<circle cx="563.9" cy="607.76" r="1.9" fill="#c936d2"/>
<rect x="581.1" y="572.82" width="7.8" height="48.68" fill="#6e6e6e" stroke="#111" stroke-width="1.1"/>
<line x1="585" y1="571.61" x2="585" y2="574.02" stroke="#111" stroke-width="1"/>
<line x1="582.4" y1="571.61" x2="587.6" y2="571.61" stroke="#111" stroke-width="1"/>
<line x1="582.4" y1="574.02" x2="587.6" y2="574.02" stroke="#111" stroke-width="1"/>
<circle cx="584.4" cy="570.41" r="1.9" fill="#000"/>
<circle cx="583" cy="573.3" r="1.9" fill="#000"/>
<circle cx="587" cy="573.3" r="1.9" fill="#000"/>
<rect x="593.3" y="588.48" width="8.4" height="33.02" fill="#e8a2ea" stroke="#c936d2" stroke-width="1.1"/>
<line x1="597.5" y1="580.77" x2="597.5" y2="596.2" stroke="#c936d2" stroke-width="1"/>
<line x1="594.9" y1="580.77" x2="600.1" y2="580.77" stroke="#c936d2" stroke-width="1"/>
<line x1="594.9" y1="596.2" x2="600.1" y2="596.2" stroke="#c936d2" stroke-width="1"/>
<circle cx="597.7" cy="576.67" r="1.9" fill="#c936d2"/>
<circle cx="597.7" cy="587.76" r="1.9" fill="#c936d2"/>
<circle cx="597.7" cy="601.74" r="1.9" fill="#c936d2"/>
<polyline points="517.5,614.2 517.5,610 530.7,610 530.7,614.2" fill="none" stroke="#000" stroke-width="1.1"/>
<text x="526.7" y="607.1" font-size="6.4" fill="#111" transform="rotate(-90 526.7 607.1)" style="stroke-width:0.11px">P = 0.0749</text>
<polyline points="551.7,539.1 551.7,534.9 564.6,534.9 564.6,539.1" fill="none" stroke="#000" stroke-width="1.1"/>
<text x="560.75" y="532" font-size="6.4" fill="#111" transform="rotate(-90 560.75 532)" style="stroke-width:0.11px">P = 0.0036</text>
<polyline points="586.2,563.4 586.2,559.2 599.5,559.2 599.5,563.4" fill="none" stroke="#000" stroke-width="1.1"/>
<text x="595.45" y="556.3" font-size="6.4" fill="#111" transform="rotate(-90 595.45 556.3)" style="stroke-width:0.11px">P = 0.1204</text>
<line x1="508.6" y1="524.5" x2="508.6" y2="622.1" stroke="#1e1e1e" stroke-width="1.2"/>
<line x1="501.1" y1="621.5" x2="605.8" y2="621.5" stroke="#1e1e1e" stroke-width="1.2"/>
<line x1="501.1" y1="621.5" x2="508.6" y2="621.5" stroke="#1e1e1e" stroke-width="1.2"/>
<text x="498.6" y="624.6" font-size="8.6" text-anchor="end" fill="#111">0</text>
<line x1="501.1" y1="597.4" x2="508.6" y2="597.4" stroke="#1e1e1e" stroke-width="1.2"/>
<text x="498.6" y="600.5" font-size="8.6" text-anchor="end" fill="#111">1</text>
<line x1="501.1" y1="573.3" x2="508.6" y2="573.3" stroke="#1e1e1e" stroke-width="1.2"/>
<text x="498.6" y="576.4" font-size="8.6" text-anchor="end" fill="#111">2</text>
<line x1="501.1" y1="549.2" x2="508.6" y2="549.2" stroke="#1e1e1e" stroke-width="1.2"/>
<text x="498.6" y="552.3" font-size="8.6" text-anchor="end" fill="#111">3</text>
<line x1="501.1" y1="525.1" x2="508.6" y2="525.1" stroke="#1e1e1e" stroke-width="1.2"/>
<text x="498.6" y="528.2" font-size="8.6" text-anchor="end" fill="#111">4</text>
<line x1="515.7" y1="627.6" x2="536.1" y2="627.6" stroke="#2a2a2a" stroke-width="1.2"/>
<text x="523.5" y="639" font-size="8.2" text-anchor="middle" fill="#111">&#216;</text>
<line x1="549.2" y1="627.6" x2="569.6" y2="627.6" stroke="#2a2a2a" stroke-width="1.2"/>
<text x="556.1" y="639" font-size="8.2" text-anchor="middle" fill="#111">30 min</text>
<line x1="583" y1="627.6" x2="603.3" y2="627.6" stroke="#2a2a2a" stroke-width="1.2"/>
<text x="589.9" y="639" font-size="8.2" text-anchor="middle" fill="#111">120 min</text>
<text x="564" y="481.8" font-size="9.4" text-anchor="middle" fill="#111">GA3P m+3</text>
<circle cx="624.2" cy="500.2" r="2.1" fill="#000"/>
<text x="635.2" y="503.4" font-size="9.2" fill="#111">WT</text>
<circle cx="624.2" cy="518.4" r="2.1" fill="#c936d2"/>
<text x="635.8" y="521.7" font-size="9.2" font-style="italic" fill="#111">Pfkl</text>
<text x="650.4" y="519" font-size="5.45" font-style="italic" fill="#111" style="stroke-width:0.11px">S775A/S775A</text>
<text x="613.6" y="635" font-size="9.2" fill="#111">(zymosan)</text>
</svg>
</body></html>
